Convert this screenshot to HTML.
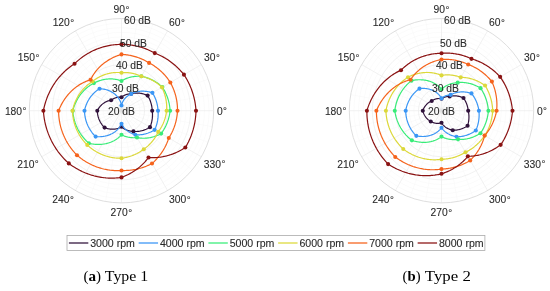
<!DOCTYPE html>
<html><head><meta charset="utf-8"><style>
html,body{margin:0;padding:0;background:#fff;width:550px;height:291px;overflow:hidden;}
svg{display:block;}
text{filter:grayscale(1);}
</style></head><body>
<svg width="550" height="291" viewBox="0 0 550 291">
<defs><radialGradient id="cg"><stop offset="0" stop-color="#d8d8d8"/><stop offset="0.5" stop-color="#e8e8e8" stop-opacity="0.6"/><stop offset="1" stop-color="#fff" stop-opacity="0"/></radialGradient></defs>
<rect width="550" height="291" fill="#fff"/>
<circle cx="121.50" cy="110.70" r="4.61" fill="none" stroke="#f6f6f6" stroke-width="0.5"/>
<circle cx="121.50" cy="110.70" r="9.22" fill="none" stroke="#f6f6f6" stroke-width="0.5"/>
<circle cx="121.50" cy="110.70" r="13.83" fill="none" stroke="#f6f6f6" stroke-width="0.5"/>
<circle cx="121.50" cy="110.70" r="18.44" fill="none" stroke="#f6f6f6" stroke-width="0.5"/>
<circle cx="121.50" cy="110.70" r="27.66" fill="none" stroke="#f6f6f6" stroke-width="0.5"/>
<circle cx="121.50" cy="110.70" r="32.27" fill="none" stroke="#f6f6f6" stroke-width="0.5"/>
<circle cx="121.50" cy="110.70" r="36.88" fill="none" stroke="#f6f6f6" stroke-width="0.5"/>
<circle cx="121.50" cy="110.70" r="41.49" fill="none" stroke="#f6f6f6" stroke-width="0.5"/>
<circle cx="121.50" cy="110.70" r="50.71" fill="none" stroke="#f6f6f6" stroke-width="0.5"/>
<circle cx="121.50" cy="110.70" r="55.32" fill="none" stroke="#f6f6f6" stroke-width="0.5"/>
<circle cx="121.50" cy="110.70" r="59.93" fill="none" stroke="#f6f6f6" stroke-width="0.5"/>
<circle cx="121.50" cy="110.70" r="64.54" fill="none" stroke="#f6f6f6" stroke-width="0.5"/>
<circle cx="121.50" cy="110.70" r="73.76" fill="none" stroke="#f6f6f6" stroke-width="0.5"/>
<circle cx="121.50" cy="110.70" r="78.37" fill="none" stroke="#f6f6f6" stroke-width="0.5"/>
<circle cx="121.50" cy="110.70" r="82.98" fill="none" stroke="#f6f6f6" stroke-width="0.5"/>
<circle cx="121.50" cy="110.70" r="87.59" fill="none" stroke="#f6f6f6" stroke-width="0.5"/>
<line x1="121.50" y1="110.70" x2="212.30" y2="94.69" stroke="#f6f6f6" stroke-width="0.5"/>
<line x1="121.50" y1="110.70" x2="208.14" y2="79.17" stroke="#f6f6f6" stroke-width="0.5"/>
<line x1="121.50" y1="110.70" x2="192.13" y2="51.43" stroke="#f6f6f6" stroke-width="0.5"/>
<line x1="121.50" y1="110.70" x2="180.77" y2="40.07" stroke="#f6f6f6" stroke-width="0.5"/>
<line x1="121.50" y1="110.70" x2="153.03" y2="24.06" stroke="#f6f6f6" stroke-width="0.5"/>
<line x1="121.50" y1="110.70" x2="137.51" y2="19.90" stroke="#f6f6f6" stroke-width="0.5"/>
<line x1="121.50" y1="110.70" x2="105.49" y2="19.90" stroke="#f6f6f6" stroke-width="0.5"/>
<line x1="121.50" y1="110.70" x2="89.97" y2="24.06" stroke="#f6f6f6" stroke-width="0.5"/>
<line x1="121.50" y1="110.70" x2="62.23" y2="40.07" stroke="#f6f6f6" stroke-width="0.5"/>
<line x1="121.50" y1="110.70" x2="50.87" y2="51.43" stroke="#f6f6f6" stroke-width="0.5"/>
<line x1="121.50" y1="110.70" x2="34.86" y2="79.17" stroke="#f6f6f6" stroke-width="0.5"/>
<line x1="121.50" y1="110.70" x2="30.70" y2="94.69" stroke="#f6f6f6" stroke-width="0.5"/>
<line x1="121.50" y1="110.70" x2="30.70" y2="126.71" stroke="#f6f6f6" stroke-width="0.5"/>
<line x1="121.50" y1="110.70" x2="34.86" y2="142.23" stroke="#f6f6f6" stroke-width="0.5"/>
<line x1="121.50" y1="110.70" x2="50.87" y2="169.97" stroke="#f6f6f6" stroke-width="0.5"/>
<line x1="121.50" y1="110.70" x2="62.23" y2="181.33" stroke="#f6f6f6" stroke-width="0.5"/>
<line x1="121.50" y1="110.70" x2="89.97" y2="197.34" stroke="#f6f6f6" stroke-width="0.5"/>
<line x1="121.50" y1="110.70" x2="105.49" y2="201.50" stroke="#f6f6f6" stroke-width="0.5"/>
<line x1="121.50" y1="110.70" x2="137.51" y2="201.50" stroke="#f6f6f6" stroke-width="0.5"/>
<line x1="121.50" y1="110.70" x2="153.03" y2="197.34" stroke="#f6f6f6" stroke-width="0.5"/>
<line x1="121.50" y1="110.70" x2="180.77" y2="181.33" stroke="#f6f6f6" stroke-width="0.5"/>
<line x1="121.50" y1="110.70" x2="192.13" y2="169.97" stroke="#f6f6f6" stroke-width="0.5"/>
<line x1="121.50" y1="110.70" x2="208.14" y2="142.23" stroke="#f6f6f6" stroke-width="0.5"/>
<line x1="121.50" y1="110.70" x2="212.30" y2="126.71" stroke="#f6f6f6" stroke-width="0.5"/>
<circle cx="121.50" cy="110.70" r="23.05" fill="none" stroke="#ebebeb" stroke-width="0.7"/>
<circle cx="121.50" cy="110.70" r="46.10" fill="none" stroke="#ebebeb" stroke-width="0.7"/>
<circle cx="121.50" cy="110.70" r="69.15" fill="none" stroke="#ebebeb" stroke-width="0.7"/>
<line x1="121.50" y1="110.70" x2="213.70" y2="110.70" stroke="#ebebeb" stroke-width="0.7"/>
<line x1="121.50" y1="110.70" x2="201.35" y2="64.60" stroke="#ebebeb" stroke-width="0.7"/>
<line x1="121.50" y1="110.70" x2="167.60" y2="30.85" stroke="#ebebeb" stroke-width="0.7"/>
<line x1="121.50" y1="110.70" x2="121.50" y2="18.50" stroke="#ebebeb" stroke-width="0.7"/>
<line x1="121.50" y1="110.70" x2="75.40" y2="30.85" stroke="#ebebeb" stroke-width="0.7"/>
<line x1="121.50" y1="110.70" x2="41.65" y2="64.60" stroke="#ebebeb" stroke-width="0.7"/>
<line x1="121.50" y1="110.70" x2="29.30" y2="110.70" stroke="#ebebeb" stroke-width="0.7"/>
<line x1="121.50" y1="110.70" x2="41.65" y2="156.80" stroke="#ebebeb" stroke-width="0.7"/>
<line x1="121.50" y1="110.70" x2="75.40" y2="190.55" stroke="#ebebeb" stroke-width="0.7"/>
<line x1="121.50" y1="110.70" x2="121.50" y2="202.90" stroke="#ebebeb" stroke-width="0.7"/>
<line x1="121.50" y1="110.70" x2="167.60" y2="190.55" stroke="#ebebeb" stroke-width="0.7"/>
<line x1="121.50" y1="110.70" x2="201.35" y2="156.80" stroke="#ebebeb" stroke-width="0.7"/>
<circle cx="121.50" cy="110.70" r="92.20" fill="none" stroke="#dadada" stroke-width="0.9"/>
<circle cx="121.50" cy="110.70" r="5" fill="url(#cg)"/>
<path d="M152.20 110.70 L152.18 110.16 L152.15 109.63 L152.11 109.10 L152.06 108.56 L152.00 108.03 L151.93 107.50 L151.86 106.97 L151.77 106.45 L151.67 105.92 L151.57 105.40 L151.46 104.88 L151.33 104.36 L151.20 103.84 L151.06 103.33 L150.91 102.82 L150.75 102.31 L150.59 101.81 L150.41 101.31 L150.23 100.81 L150.04 100.31 L149.83 99.82 L149.62 99.34 L149.41 98.85 L149.18 98.38 L148.95 97.90 L148.70 97.43 L148.45 96.97 L148.19 96.51 L147.93 96.05 L147.65 95.60 L147.08 95.33 L146.51 95.07 L145.93 94.83 L145.35 94.61 L144.78 94.40 L144.20 94.21 L143.62 94.03 L143.05 93.86 L142.48 93.71 L141.90 93.58 L141.33 93.46 L140.76 93.36 L140.20 93.27 L139.63 93.19 L139.07 93.13 L138.51 93.08 L137.96 93.05 L137.41 93.03 L136.87 93.02 L136.33 93.03 L135.79 93.05 L135.26 93.09 L134.74 93.13 L134.22 93.19 L133.71 93.27 L133.20 93.35 L132.70 93.45 L132.21 93.56 L131.73 93.68 L131.25 93.81 L130.86 93.82 L130.47 93.84 L130.08 93.86 L129.70 93.89 L129.32 93.93 L128.94 93.98 L128.57 94.04 L128.21 94.10 L127.84 94.18 L127.49 94.26 L127.13 94.34 L126.78 94.44 L126.44 94.54 L126.10 94.65 L125.77 94.76 L125.44 94.88 L125.12 95.01 L124.81 95.15 L124.50 95.29 L124.19 95.44 L123.89 95.59 L123.60 95.75 L123.32 95.91 L123.04 96.08 L122.76 96.26 L122.50 96.43 L122.24 96.62 L121.99 96.81 L121.74 97.00 L121.50 97.20 L121.26 97.18 L121.03 97.15 L120.79 97.14 L120.55 97.13 L120.31 97.12 L120.07 97.11 L119.83 97.12 L119.59 97.12 L119.35 97.13 L119.11 97.14 L118.87 97.16 L118.63 97.18 L118.39 97.21 L118.14 97.24 L117.90 97.27 L117.66 97.31 L117.42 97.36 L117.18 97.40 L116.94 97.46 L116.70 97.51 L116.46 97.57 L116.22 97.64 L115.99 97.71 L115.75 97.78 L115.51 97.86 L115.28 97.94 L115.04 98.03 L114.81 98.12 L114.58 98.22 L114.35 98.32 L114.12 98.42 L113.89 98.53 L113.67 98.64 L113.44 98.76 L113.22 98.88 L113.00 99.00 L112.78 99.13 L112.56 99.26 L112.35 99.40 L112.14 99.54 L111.93 99.69 L111.72 99.84 L111.51 99.99 L111.31 100.14 L111.11 100.31 L110.77 100.34 L110.44 100.39 L110.11 100.44 L109.77 100.50 L109.43 100.57 L109.09 100.65 L108.75 100.74 L108.41 100.84 L108.07 100.94 L107.73 101.06 L107.39 101.18 L107.05 101.31 L106.71 101.46 L106.37 101.61 L106.03 101.77 L105.69 101.94 L105.35 102.11 L105.02 102.30 L104.68 102.50 L104.35 102.70 L104.02 102.92 L103.69 103.14 L103.37 103.37 L103.05 103.62 L102.73 103.87 L102.41 104.13 L102.10 104.40 L101.79 104.67 L101.48 104.96 L101.18 105.26 L100.89 105.56 L100.59 105.87 L100.31 106.20 L100.02 106.53 L99.75 106.86 L99.47 107.21 L99.21 107.57 L98.95 107.93 L98.69 108.30 L98.44 108.68 L98.20 109.07 L97.97 109.47 L97.74 109.87 L97.51 110.28 L97.30 110.70 L97.31 111.12 L97.33 111.54 L97.35 111.97 L97.39 112.39 L97.43 112.81 L97.47 113.23 L97.53 113.64 L97.59 114.06 L97.66 114.48 L97.73 114.89 L97.82 115.30 L97.91 115.71 L98.00 116.12 L98.11 116.53 L98.22 116.94 L98.34 117.34 L98.47 117.74 L98.60 118.14 L98.74 118.54 L98.88 118.93 L99.04 119.32 L99.20 119.71 L99.36 120.10 L99.54 120.48 L99.72 120.86 L99.90 121.23 L100.10 121.60 L100.30 121.97 L100.50 122.34 L100.72 122.70 L100.93 123.06 L101.16 123.41 L101.39 123.76 L101.63 124.11 L101.87 124.45 L102.12 124.78 L102.37 125.12 L102.63 125.44 L102.90 125.77 L103.17 126.08 L103.44 126.40 L103.72 126.71 L104.01 127.01 L104.30 127.31 L104.60 127.60 L105.02 127.77 L105.44 127.93 L105.86 128.07 L106.28 128.21 L106.69 128.34 L107.11 128.47 L107.53 128.58 L107.95 128.68 L108.37 128.77 L108.79 128.86 L109.20 128.93 L109.62 129.00 L110.03 129.06 L110.44 129.11 L110.85 129.15 L111.26 129.18 L111.66 129.20 L112.07 129.22 L112.47 129.22 L112.86 129.22 L113.26 129.21 L113.65 129.19 L114.04 129.16 L114.43 129.13 L114.81 129.09 L115.19 129.04 L115.56 128.98 L115.93 128.91 L116.30 128.84 L116.66 128.76 L117.02 128.68 L117.37 128.58 L117.72 128.48 L118.06 128.38 L118.40 128.26 L118.74 128.14 L119.07 128.02 L119.39 127.88 L119.71 127.75 L120.02 127.60 L120.33 127.45 L120.63 127.30 L120.93 127.14 L121.22 126.97 L121.50 126.80 L121.79 127.06 L122.08 127.31 L122.38 127.56 L122.70 127.80 L123.02 128.03 L123.35 128.26 L123.68 128.49 L124.03 128.70 L124.38 128.91 L124.75 129.12 L125.12 129.31 L125.50 129.50 L125.88 129.68 L126.28 129.85 L126.68 130.02 L127.08 130.18 L127.50 130.32 L127.92 130.46 L128.35 130.59 L128.79 130.72 L129.23 130.83 L129.67 130.93 L130.13 131.02 L130.59 131.11 L131.05 131.18 L131.52 131.25 L132.00 131.30 L132.48 131.34 L132.96 131.38 L133.45 131.40 L133.96 131.44 L134.48 131.48 L135.01 131.50 L135.54 131.51 L136.07 131.51 L136.61 131.49 L137.15 131.46 L137.69 131.42 L138.24 131.37 L138.79 131.31 L139.34 131.23 L139.90 131.14 L140.46 131.03 L141.02 130.91 L141.58 130.78 L142.15 130.64 L142.71 130.48 L143.27 130.31 L143.84 130.12 L144.40 129.92 L144.97 129.71 L145.53 129.48 L146.10 129.24 L146.66 128.98 L147.22 128.71 L147.78 128.43 L148.34 128.13 L148.89 127.82 L149.44 127.49 L149.99 127.15 L150.21 126.61 L150.42 126.08 L150.62 125.54 L150.81 124.99 L150.99 124.45 L151.15 123.90 L151.31 123.35 L151.46 122.80 L151.60 122.25 L151.73 121.70 L151.84 121.15 L151.95 120.59 L152.05 120.04 L152.14 119.49 L152.22 118.93 L152.28 118.38 L152.34 117.82 L152.39 117.27 L152.43 116.71 L152.46 116.16 L152.47 115.61 L152.48 115.05 L152.48 114.50 L152.47 113.96 L152.45 113.41 L152.42 112.86 L152.38 112.32 L152.33 111.78 L152.27 111.24 L152.20 110.70Z" fill="none" stroke="#30123b" stroke-width="1.20" stroke-linejoin="round"/>
<circle cx="152.20" cy="110.70" r="2.05" fill="#30123b"/>
<circle cx="147.65" cy="95.60" r="2.05" fill="#30123b"/>
<circle cx="131.25" cy="93.81" r="2.05" fill="#30123b"/>
<circle cx="121.50" cy="97.20" r="2.05" fill="#30123b"/>
<circle cx="111.11" cy="100.31" r="2.05" fill="#30123b"/>
<circle cx="97.30" cy="110.70" r="2.05" fill="#30123b"/>
<circle cx="104.60" cy="127.60" r="2.05" fill="#30123b"/>
<circle cx="121.50" cy="126.80" r="2.05" fill="#30123b"/>
<circle cx="133.45" cy="131.40" r="2.05" fill="#30123b"/>
<circle cx="149.99" cy="127.15" r="2.05" fill="#30123b"/>
<path d="M158.00 110.70 L157.97 110.06 L157.92 109.43 L157.87 108.79 L157.80 108.16 L157.73 107.53 L157.64 106.90 L157.54 106.27 L157.43 105.65 L157.31 105.03 L157.18 104.41 L157.04 103.79 L156.89 103.18 L156.73 102.57 L156.55 101.96 L156.37 101.36 L156.18 100.76 L155.97 100.16 L155.76 99.57 L155.53 98.98 L155.30 98.40 L155.05 97.82 L154.80 97.25 L154.53 96.68 L154.26 96.11 L153.98 95.56 L153.68 95.00 L153.38 94.46 L153.07 93.91 L152.75 93.38 L152.42 92.85 L151.64 92.59 L150.85 92.36 L150.07 92.14 L149.29 91.95 L148.52 91.78 L147.74 91.63 L146.97 91.50 L146.21 91.40 L145.44 91.31 L144.69 91.24 L143.93 91.20 L143.18 91.17 L142.44 91.17 L141.71 91.18 L140.98 91.22 L140.26 91.27 L139.55 91.35 L138.84 91.44 L138.15 91.55 L137.46 91.68 L136.79 91.82 L136.12 91.99 L135.46 92.17 L134.82 92.37 L134.19 92.58 L133.56 92.81 L132.95 93.06 L132.36 93.33 L131.77 93.61 L131.20 93.90 L130.68 94.15 L130.16 94.41 L129.66 94.68 L129.17 94.97 L128.70 95.26 L128.24 95.57 L127.79 95.89 L127.35 96.22 L126.93 96.57 L126.52 96.92 L126.12 97.28 L125.74 97.65 L125.37 98.03 L125.02 98.42 L124.68 98.82 L124.36 99.22 L124.05 99.64 L123.76 100.06 L123.49 100.48 L123.22 100.92 L122.98 101.36 L122.75 101.80 L122.54 102.25 L122.34 102.70 L122.16 103.16 L121.99 103.62 L121.85 104.09 L121.71 104.56 L121.60 105.03 L121.50 105.50 L121.40 104.93 L121.28 104.35 L121.14 103.78 L120.98 103.22 L120.80 102.65 L120.60 102.09 L120.38 101.54 L120.14 100.99 L119.88 100.45 L119.60 99.91 L119.30 99.38 L118.98 98.86 L118.65 98.34 L118.29 97.84 L117.92 97.34 L117.53 96.85 L117.12 96.37 L116.69 95.90 L116.25 95.44 L115.78 95.00 L115.31 94.56 L114.81 94.14 L114.30 93.73 L113.77 93.33 L113.22 92.95 L112.66 92.58 L112.08 92.22 L111.49 91.88 L110.89 91.55 L110.27 91.24 L109.63 90.95 L108.98 90.67 L108.32 90.41 L107.65 90.17 L106.96 89.94 L106.26 89.73 L105.55 89.54 L104.83 89.37 L104.10 89.21 L103.36 89.08 L102.61 88.97 L101.85 88.87 L101.07 88.80 L100.30 88.74 L99.51 88.71 L99.03 89.01 L98.56 89.31 L98.10 89.63 L97.63 89.95 L97.17 90.29 L96.72 90.63 L96.27 90.99 L95.82 91.35 L95.38 91.73 L94.95 92.11 L94.52 92.50 L94.10 92.90 L93.68 93.32 L93.27 93.74 L92.86 94.17 L92.46 94.61 L92.07 95.05 L91.69 95.51 L91.31 95.97 L90.94 96.45 L90.57 96.93 L90.22 97.42 L89.87 97.92 L89.53 98.43 L89.20 98.94 L88.87 99.47 L88.56 100.00 L88.25 100.53 L87.95 101.08 L87.66 101.63 L87.38 102.19 L87.11 102.76 L86.85 103.33 L86.60 103.92 L86.35 104.50 L86.12 105.10 L85.90 105.70 L85.69 106.30 L85.49 106.91 L85.29 107.53 L85.11 108.16 L84.94 108.78 L84.78 109.42 L84.64 110.06 L84.50 110.70 L84.51 111.35 L84.54 111.99 L84.58 112.64 L84.63 113.28 L84.69 113.92 L84.76 114.56 L84.84 115.20 L84.93 115.84 L85.03 116.48 L85.15 117.11 L85.28 117.74 L85.41 118.37 L85.56 119.00 L85.72 119.62 L85.89 120.24 L86.07 120.86 L86.26 121.47 L86.46 122.08 L86.68 122.69 L86.90 123.29 L87.13 123.89 L87.38 124.49 L87.63 125.08 L87.89 125.66 L88.17 126.24 L88.45 126.82 L88.75 127.39 L89.05 127.95 L89.36 128.51 L89.69 129.07 L90.02 129.61 L90.36 130.16 L90.72 130.69 L91.08 131.22 L91.45 131.74 L91.83 132.26 L92.21 132.77 L92.61 133.27 L93.02 133.77 L93.43 134.25 L93.85 134.74 L94.28 135.21 L94.72 135.67 L95.17 136.13 L95.62 136.58 L96.44 136.65 L97.25 136.70 L98.06 136.73 L98.86 136.74 L99.66 136.73 L100.45 136.70 L101.23 136.65 L102.00 136.58 L102.76 136.49 L103.52 136.38 L104.26 136.26 L104.99 136.12 L105.72 135.96 L106.43 135.78 L107.13 135.58 L107.82 135.37 L108.50 135.14 L109.17 134.90 L109.82 134.64 L110.46 134.36 L111.09 134.07 L111.71 133.77 L112.31 133.45 L112.89 133.12 L113.47 132.77 L114.02 132.41 L114.57 132.04 L115.09 131.66 L115.60 131.26 L116.10 130.86 L116.58 130.44 L117.04 130.01 L117.49 129.57 L117.92 129.12 L118.33 128.67 L118.73 128.20 L119.11 127.73 L119.47 127.25 L119.81 126.76 L120.14 126.26 L120.45 125.76 L120.74 125.25 L121.01 124.74 L121.26 124.22 L121.50 123.70 L121.74 124.19 L121.99 124.67 L122.26 125.15 L122.54 125.62 L122.85 126.09 L123.17 126.55 L123.50 127.01 L123.85 127.46 L124.22 127.90 L124.61 128.33 L125.01 128.75 L125.43 129.17 L125.86 129.57 L126.30 129.97 L126.77 130.36 L127.24 130.73 L127.74 131.10 L128.24 131.45 L128.76 131.79 L129.30 132.12 L129.85 132.44 L130.41 132.75 L130.98 133.04 L131.57 133.32 L132.17 133.58 L132.78 133.83 L133.41 134.07 L134.04 134.29 L134.69 134.50 L135.35 134.69 L135.95 134.75 L136.55 134.79 L137.16 134.82 L137.78 134.84 L138.40 134.84 L139.03 134.82 L139.66 134.80 L140.29 134.76 L140.93 134.70 L141.58 134.63 L142.22 134.54 L142.87 134.44 L143.52 134.32 L144.18 134.18 L144.83 134.03 L145.49 133.87 L146.15 133.69 L146.81 133.49 L147.47 133.28 L148.13 133.05 L148.79 132.80 L149.45 132.54 L150.11 132.26 L150.77 131.97 L151.43 131.65 L152.08 131.33 L152.73 130.98 L153.38 130.62 L154.03 130.24 L154.67 129.85 L154.95 129.24 L155.21 128.62 L155.47 128.01 L155.71 127.38 L155.94 126.76 L156.16 126.13 L156.37 125.50 L156.57 124.87 L156.75 124.23 L156.93 123.59 L157.09 122.95 L157.24 122.31 L157.38 121.67 L157.51 121.03 L157.63 120.38 L157.73 119.73 L157.82 119.09 L157.91 118.44 L157.98 117.79 L158.04 117.14 L158.08 116.49 L158.12 115.85 L158.14 115.20 L158.16 114.55 L158.16 113.91 L158.15 113.26 L158.13 112.62 L158.10 111.98 L158.05 111.34 L158.00 110.70Z" fill="none" stroke="#3a96f5" stroke-width="1.20" stroke-linejoin="round"/>
<circle cx="158.00" cy="110.70" r="2.05" fill="#3a96f5"/>
<circle cx="152.42" cy="92.85" r="2.05" fill="#3a96f5"/>
<circle cx="131.20" cy="93.90" r="2.05" fill="#3a96f5"/>
<circle cx="121.50" cy="105.50" r="2.05" fill="#3a96f5"/>
<circle cx="99.51" cy="88.71" r="2.05" fill="#3a96f5"/>
<circle cx="84.50" cy="110.70" r="2.05" fill="#3a96f5"/>
<circle cx="95.62" cy="136.58" r="2.05" fill="#3a96f5"/>
<circle cx="121.50" cy="123.70" r="2.05" fill="#3a96f5"/>
<circle cx="135.35" cy="134.69" r="2.05" fill="#3a96f5"/>
<circle cx="154.67" cy="129.85" r="2.05" fill="#3a96f5"/>
<path d="M170.10 110.70 L170.05 109.85 L169.98 109.01 L169.89 108.16 L169.80 107.32 L169.68 106.48 L169.56 105.65 L169.41 104.82 L169.26 103.99 L169.09 103.16 L168.90 102.34 L168.70 101.52 L168.49 100.71 L168.26 99.90 L168.02 99.10 L167.77 98.30 L167.50 97.51 L167.22 96.72 L166.92 95.94 L166.61 95.17 L166.29 94.40 L165.96 93.63 L165.61 92.88 L165.25 92.13 L164.88 91.39 L164.49 90.65 L164.09 89.93 L163.68 89.21 L163.26 88.50 L162.82 87.79 L162.38 87.10 L161.74 86.52 L161.10 85.95 L160.46 85.40 L159.80 84.87 L159.14 84.34 L158.47 83.84 L157.80 83.35 L157.12 82.87 L156.43 82.41 L155.74 81.97 L155.05 81.54 L154.35 81.12 L153.64 80.73 L152.94 80.34 L152.22 79.98 L151.51 79.62 L150.79 79.29 L150.07 78.97 L149.35 78.66 L148.63 78.37 L147.90 78.10 L147.17 77.84 L146.45 77.60 L145.72 77.37 L144.99 77.16 L144.26 76.96 L143.53 76.78 L142.80 76.61 L142.08 76.46 L141.35 76.32 L140.59 76.27 L139.83 76.24 L139.07 76.22 L138.32 76.22 L137.57 76.23 L136.83 76.26 L136.10 76.30 L135.37 76.36 L134.65 76.44 L133.94 76.53 L133.23 76.63 L132.53 76.75 L131.84 76.88 L131.16 77.02 L130.48 77.18 L129.81 77.35 L129.16 77.54 L128.51 77.74 L127.87 77.95 L127.24 78.17 L126.62 78.40 L126.00 78.65 L125.40 78.91 L124.81 79.17 L124.23 79.45 L123.66 79.74 L123.11 80.04 L122.56 80.35 L122.02 80.67 L121.50 81.00 L120.98 80.80 L120.45 80.61 L119.91 80.42 L119.37 80.25 L118.82 80.08 L118.27 79.93 L117.70 79.79 L117.14 79.65 L116.56 79.53 L115.98 79.42 L115.40 79.31 L114.81 79.22 L114.21 79.14 L113.61 79.07 L113.01 79.02 L112.40 78.97 L111.79 78.94 L111.17 78.92 L110.55 78.91 L109.93 78.91 L109.30 78.92 L108.67 78.95 L108.04 78.99 L107.40 79.04 L106.76 79.10 L106.12 79.18 L105.48 79.27 L104.84 79.37 L104.20 79.48 L103.55 79.61 L102.90 79.75 L102.26 79.90 L101.61 80.07 L100.96 80.25 L100.32 80.45 L99.67 80.65 L99.02 80.87 L98.38 81.11 L97.74 81.35 L97.10 81.62 L96.46 81.89 L95.82 82.18 L95.18 82.48 L94.55 82.79 L93.92 83.12 L93.29 83.46 L92.66 83.81 L92.04 84.17 L91.42 84.55 L90.80 84.94 L90.19 85.34 L89.58 85.76 L88.98 86.19 L88.38 86.64 L87.79 87.09 L87.20 87.57 L86.62 88.05 L86.05 88.55 L85.48 89.06 L84.92 89.58 L84.37 90.12 L83.83 90.67 L83.29 91.23 L82.77 91.81 L82.25 92.40 L81.74 93.00 L81.24 93.61 L80.74 94.23 L80.26 94.87 L79.79 95.52 L79.33 96.18 L78.87 96.85 L78.43 97.53 L78.00 98.23 L77.58 98.93 L77.17 99.65 L76.78 100.38 L76.39 101.11 L76.02 101.86 L75.66 102.62 L75.32 103.39 L74.98 104.16 L74.66 104.95 L74.35 105.74 L74.06 106.55 L73.78 107.36 L73.51 108.19 L73.26 109.02 L73.02 109.85 L72.80 110.70 L72.87 111.55 L72.95 112.40 L73.04 113.24 L73.15 114.08 L73.27 114.92 L73.41 115.75 L73.56 116.59 L73.73 117.41 L73.91 118.24 L74.11 119.06 L74.32 119.87 L74.54 120.68 L74.78 121.49 L75.03 122.29 L75.30 123.08 L75.58 123.87 L75.87 124.65 L76.17 125.43 L76.49 126.20 L76.82 126.96 L77.17 127.72 L77.52 128.47 L77.89 129.21 L78.28 129.94 L78.67 130.67 L79.08 131.39 L79.50 132.10 L79.93 132.80 L80.37 133.50 L80.83 134.18 L81.29 134.86 L81.77 135.53 L82.26 136.19 L82.75 136.83 L83.26 137.47 L83.78 138.10 L84.31 138.72 L84.85 139.33 L85.40 139.93 L85.96 140.52 L86.53 141.10 L87.11 141.66 L87.70 142.22 L88.30 142.76 L88.90 143.30 L89.82 143.51 L90.73 143.70 L91.64 143.86 L92.54 144.01 L93.45 144.13 L94.34 144.24 L95.23 144.32 L96.12 144.38 L97.00 144.42 L97.88 144.44 L98.74 144.44 L99.60 144.42 L100.45 144.38 L101.30 144.32 L102.13 144.24 L102.96 144.15 L103.78 144.03 L104.58 143.90 L105.38 143.75 L106.17 143.58 L106.94 143.39 L107.71 143.19 L108.46 142.97 L109.20 142.73 L109.93 142.48 L110.65 142.22 L111.35 141.93 L112.04 141.64 L112.72 141.32 L113.38 141.00 L114.03 140.66 L114.66 140.31 L115.28 139.94 L115.89 139.56 L116.48 139.17 L117.05 138.77 L117.61 138.36 L118.16 137.93 L118.68 137.50 L119.19 137.05 L119.69 136.60 L120.17 136.14 L120.63 135.67 L121.07 135.19 L121.50 134.70 L121.92 134.93 L122.35 135.15 L122.79 135.37 L123.24 135.57 L123.69 135.77 L124.16 135.96 L124.62 136.14 L125.10 136.31 L125.58 136.48 L126.07 136.63 L126.57 136.78 L127.07 136.91 L127.58 137.04 L128.10 137.16 L128.62 137.26 L129.14 137.36 L129.68 137.44 L130.21 137.52 L130.76 137.58 L131.30 137.64 L131.86 137.68 L132.41 137.71 L132.97 137.73 L133.54 137.74 L134.11 137.74 L134.68 137.72 L135.26 137.70 L135.83 137.66 L136.42 137.61 L137.00 137.55 L137.72 137.70 L138.45 137.83 L139.19 137.94 L139.94 138.04 L140.70 138.11 L141.46 138.17 L142.23 138.22 L143.02 138.24 L143.80 138.24 L144.60 138.23 L145.40 138.19 L146.20 138.14 L147.02 138.06 L147.83 137.97 L148.65 137.85 L149.48 137.72 L150.31 137.56 L151.14 137.38 L151.97 137.19 L152.81 136.97 L153.64 136.73 L154.48 136.47 L155.32 136.18 L156.16 135.88 L157.00 135.55 L157.83 135.21 L158.67 134.84 L159.50 134.45 L160.34 134.03 L161.16 133.60 L161.64 132.95 L162.10 132.29 L162.56 131.62 L163.00 130.94 L163.43 130.25 L163.85 129.56 L164.26 128.85 L164.66 128.14 L165.04 127.41 L165.41 126.68 L165.78 125.95 L166.12 125.20 L166.46 124.45 L166.78 123.68 L167.09 122.92 L167.39 122.14 L167.67 121.36 L167.94 120.57 L168.20 119.78 L168.44 118.98 L168.67 118.17 L168.89 117.36 L169.09 116.54 L169.28 115.72 L169.45 114.90 L169.61 114.06 L169.75 113.23 L169.88 112.39 L170.00 111.55 L170.10 110.70Z" fill="none" stroke="#38ec78" stroke-width="1.20" stroke-linejoin="round"/>
<circle cx="170.10" cy="110.70" r="2.05" fill="#38ec78"/>
<circle cx="162.38" cy="87.10" r="2.05" fill="#38ec78"/>
<circle cx="141.35" cy="76.32" r="2.05" fill="#38ec78"/>
<circle cx="121.50" cy="81.00" r="2.05" fill="#38ec78"/>
<circle cx="93.92" cy="83.12" r="2.05" fill="#38ec78"/>
<circle cx="72.80" cy="110.70" r="2.05" fill="#38ec78"/>
<circle cx="88.90" cy="143.30" r="2.05" fill="#38ec78"/>
<circle cx="121.50" cy="134.70" r="2.05" fill="#38ec78"/>
<circle cx="137.00" cy="137.55" r="2.05" fill="#38ec78"/>
<circle cx="161.16" cy="133.60" r="2.05" fill="#38ec78"/>
<path d="M166.60 110.70 L166.65 109.91 L166.68 109.12 L166.70 108.33 L166.70 107.54 L166.69 106.75 L166.67 105.95 L166.63 105.16 L166.58 104.36 L166.52 103.57 L166.44 102.78 L166.35 101.98 L166.24 101.19 L166.12 100.40 L165.98 99.61 L165.84 98.82 L165.67 98.03 L165.50 97.25 L165.31 96.47 L165.10 95.69 L164.88 94.91 L164.65 94.14 L164.40 93.37 L164.14 92.60 L163.87 91.84 L163.58 91.08 L163.28 90.32 L162.97 89.57 L162.64 88.83 L162.30 88.09 L161.94 87.35 L161.33 86.77 L160.71 86.20 L160.08 85.65 L159.44 85.11 L158.80 84.58 L158.15 84.07 L157.49 83.58 L156.83 83.10 L156.16 82.63 L155.49 82.18 L154.81 81.75 L154.12 81.33 L153.44 80.92 L152.74 80.53 L152.05 80.15 L151.35 79.79 L150.64 79.45 L149.94 79.12 L149.23 78.80 L148.52 78.50 L147.81 78.22 L147.09 77.95 L146.38 77.69 L145.66 77.45 L144.94 77.22 L144.22 77.01 L143.50 76.82 L142.79 76.64 L142.07 76.47 L141.35 76.32 L140.72 76.03 L140.08 75.75 L139.45 75.48 L138.80 75.22 L138.16 74.98 L137.51 74.74 L136.86 74.52 L136.20 74.31 L135.54 74.11 L134.88 73.93 L134.22 73.75 L133.56 73.59 L132.89 73.44 L132.22 73.30 L131.56 73.17 L130.88 73.06 L130.21 72.96 L129.54 72.87 L128.87 72.79 L128.20 72.72 L127.52 72.66 L126.85 72.62 L126.18 72.59 L125.51 72.57 L124.84 72.56 L124.17 72.57 L123.50 72.58 L122.83 72.61 L122.16 72.65 L121.50 72.70 L120.84 72.63 L120.17 72.58 L119.50 72.54 L118.83 72.51 L118.16 72.49 L117.48 72.48 L116.81 72.49 L116.13 72.51 L115.46 72.54 L114.78 72.58 L114.10 72.63 L113.42 72.70 L112.74 72.77 L112.07 72.86 L111.39 72.96 L110.71 73.08 L110.04 73.20 L109.36 73.34 L108.69 73.49 L108.02 73.66 L107.35 73.83 L106.68 74.02 L106.01 74.22 L105.35 74.43 L104.69 74.65 L104.03 74.88 L103.38 75.13 L102.73 75.39 L102.08 75.66 L101.43 75.94 L100.79 76.24 L100.16 76.54 L99.53 76.86 L98.90 77.19 L98.28 77.53 L97.66 77.89 L97.05 78.25 L96.44 78.63 L95.84 79.01 L95.25 79.41 L94.66 79.82 L94.07 80.24 L93.50 80.67 L92.93 81.11 L92.37 81.57 L91.74 81.96 L91.11 82.37 L90.50 82.78 L89.88 83.22 L89.28 83.66 L88.67 84.12 L88.08 84.59 L87.49 85.07 L86.91 85.57 L86.33 86.07 L85.76 86.60 L85.20 87.13 L84.65 87.67 L84.10 88.23 L83.57 88.80 L83.04 89.38 L82.52 89.97 L82.01 90.58 L81.51 91.20 L81.02 91.82 L80.54 92.46 L80.07 93.11 L79.60 93.77 L79.15 94.44 L78.71 95.13 L78.28 95.82 L77.87 96.52 L77.46 97.24 L77.06 97.96 L76.68 98.69 L76.31 99.43 L75.95 100.18 L75.61 100.94 L75.27 101.71 L74.95 102.49 L74.64 103.28 L74.35 104.07 L74.07 104.88 L73.80 105.69 L73.55 106.50 L73.31 107.33 L73.09 108.16 L72.88 109.00 L72.68 109.85 L72.50 110.70 L72.52 111.55 L72.56 112.41 L72.61 113.26 L72.67 114.11 L72.75 114.96 L72.85 115.81 L72.96 116.66 L73.08 117.50 L73.22 118.35 L73.38 119.19 L73.54 120.02 L73.73 120.85 L73.92 121.68 L74.14 122.51 L74.36 123.33 L74.60 124.15 L74.86 124.96 L75.13 125.77 L75.41 126.57 L75.71 127.37 L76.02 128.16 L76.34 128.95 L76.68 129.73 L77.03 130.50 L77.39 131.27 L77.77 132.03 L78.16 132.78 L78.57 133.53 L78.98 134.27 L79.41 135.00 L79.85 135.72 L80.31 136.44 L80.77 137.15 L81.25 137.85 L81.74 138.54 L82.25 139.22 L82.76 139.89 L83.29 140.56 L83.82 141.21 L84.37 141.85 L84.93 142.49 L85.50 143.11 L86.08 143.73 L86.67 144.33 L87.28 144.92 L87.89 145.50 L88.52 146.07 L89.15 146.62 L89.80 147.17 L90.45 147.70 L91.12 148.22 L91.79 148.73 L92.47 149.23 L93.16 149.71 L93.85 150.18 L94.56 150.64 L95.27 151.09 L95.99 151.53 L96.72 151.95 L97.45 152.36 L98.19 152.75 L98.94 153.13 L99.69 153.50 L100.45 153.86 L101.21 154.20 L101.98 154.53 L102.76 154.85 L103.54 155.15 L104.33 155.44 L105.12 155.71 L105.91 155.97 L106.71 156.22 L107.51 156.45 L108.32 156.67 L109.13 156.87 L109.94 157.06 L110.76 157.24 L111.57 157.40 L112.39 157.54 L113.22 157.68 L114.04 157.79 L114.87 157.90 L115.69 157.98 L116.52 158.06 L117.35 158.12 L118.18 158.16 L119.01 158.19 L119.84 158.21 L120.67 158.21 L121.50 158.20 L122.33 158.09 L123.15 157.97 L123.97 157.84 L124.79 157.69 L125.60 157.52 L126.40 157.34 L127.20 157.15 L128.00 156.95 L128.79 156.73 L129.57 156.49 L130.35 156.25 L131.13 155.99 L131.89 155.72 L132.65 155.43 L133.41 155.13 L134.15 154.82 L134.89 154.50 L135.62 154.16 L136.35 153.82 L137.06 153.46 L137.77 153.08 L138.47 152.70 L139.16 152.31 L139.84 151.90 L140.52 151.48 L141.18 151.06 L141.84 150.62 L142.49 150.17 L143.12 149.71 L143.75 149.24 L144.38 148.78 L145.01 148.32 L145.62 147.84 L146.23 147.36 L146.82 146.87 L147.41 146.36 L147.99 145.85 L148.55 145.33 L149.11 144.79 L149.65 144.25 L150.19 143.70 L150.71 143.15 L151.23 142.58 L151.73 142.01 L152.22 141.42 L152.70 140.83 L153.17 140.24 L153.63 139.63 L154.08 139.02 L154.52 138.40 L154.94 137.78 L155.35 137.15 L155.75 136.51 L156.14 135.87 L156.52 135.22 L156.88 134.57 L157.24 133.91 L157.58 133.24 L157.90 132.57 L158.22 131.90 L158.66 131.30 L159.10 130.69 L159.52 130.07 L159.93 129.44 L160.34 128.81 L160.73 128.17 L161.11 127.51 L161.48 126.85 L161.84 126.19 L162.19 125.51 L162.53 124.83 L162.85 124.14 L163.17 123.44 L163.47 122.73 L163.76 122.02 L164.04 121.31 L164.30 120.58 L164.56 119.85 L164.80 119.12 L165.03 118.38 L165.24 117.63 L165.45 116.88 L165.64 116.12 L165.82 115.36 L165.98 114.59 L166.13 113.82 L166.27 113.05 L166.39 112.27 L166.50 111.49 L166.60 110.70Z" fill="none" stroke="#dcd83a" stroke-width="1.20" stroke-linejoin="round"/>
<circle cx="166.60" cy="110.70" r="2.05" fill="#dcd83a"/>
<circle cx="161.94" cy="87.35" r="2.05" fill="#dcd83a"/>
<circle cx="141.35" cy="76.32" r="2.05" fill="#dcd83a"/>
<circle cx="121.50" cy="72.70" r="2.05" fill="#dcd83a"/>
<circle cx="92.37" cy="81.57" r="2.05" fill="#dcd83a"/>
<circle cx="72.50" cy="110.70" r="2.05" fill="#dcd83a"/>
<circle cx="87.28" cy="144.92" r="2.05" fill="#dcd83a"/>
<circle cx="121.50" cy="158.20" r="2.05" fill="#dcd83a"/>
<circle cx="143.75" cy="149.24" r="2.05" fill="#dcd83a"/>
<circle cx="158.22" cy="131.90" r="2.05" fill="#dcd83a"/>
<path d="M177.50 110.70 L177.50 109.72 L177.49 108.74 L177.46 107.77 L177.42 106.79 L177.35 105.81 L177.27 104.84 L177.18 103.86 L177.06 102.89 L176.93 101.92 L176.78 100.95 L176.62 99.99 L176.43 99.02 L176.23 98.06 L176.02 97.11 L175.79 96.15 L175.54 95.21 L175.27 94.26 L174.99 93.32 L174.69 92.39 L174.37 91.46 L174.04 90.53 L173.69 89.61 L173.33 88.70 L172.95 87.79 L172.56 86.89 L172.14 86.00 L171.72 85.11 L171.27 84.23 L170.82 83.36 L170.34 82.50 L169.81 81.67 L169.26 80.85 L168.70 80.05 L168.13 79.25 L167.54 78.47 L166.93 77.69 L166.32 76.93 L165.69 76.17 L165.05 75.43 L164.40 74.70 L163.73 73.99 L163.06 73.28 L162.37 72.59 L161.67 71.91 L160.96 71.24 L160.23 70.59 L159.50 69.95 L158.76 69.32 L158.00 68.71 L157.24 68.11 L156.47 67.52 L155.68 66.95 L154.89 66.39 L154.09 65.85 L153.28 65.32 L152.46 64.80 L151.63 64.30 L150.79 63.82 L149.95 63.35 L149.10 62.90 L148.28 62.39 L147.45 61.90 L146.61 61.42 L145.76 60.95 L144.91 60.51 L144.04 60.07 L143.17 59.65 L142.29 59.25 L141.40 58.86 L140.50 58.48 L139.60 58.13 L138.69 57.78 L137.78 57.46 L136.86 57.14 L135.93 56.85 L135.00 56.57 L134.06 56.31 L133.11 56.06 L132.17 55.83 L131.21 55.62 L130.26 55.42 L129.29 55.24 L128.33 55.07 L127.36 54.93 L126.39 54.80 L125.42 54.68 L124.44 54.59 L123.46 54.51 L122.48 54.45 L121.50 54.40 L120.52 54.69 L119.55 54.99 L118.60 55.32 L117.65 55.65 L116.72 56.01 L115.79 56.38 L114.88 56.77 L113.98 57.17 L113.09 57.58 L112.21 58.01 L111.35 58.46 L110.49 58.92 L109.65 59.39 L108.83 59.88 L108.02 60.38 L107.22 60.89 L106.43 61.41 L105.66 61.95 L104.90 62.50 L104.16 63.06 L103.43 63.63 L102.72 64.21 L102.02 64.80 L101.33 65.41 L100.66 66.02 L100.01 66.64 L99.37 67.27 L98.75 67.91 L98.14 68.56 L97.55 69.22 L96.97 69.88 L96.41 70.55 L95.87 71.23 L95.34 71.92 L94.83 72.61 L94.33 73.31 L93.85 74.01 L93.39 74.72 L92.94 75.43 L92.51 76.15 L92.10 76.87 L91.70 77.60 L91.31 78.33 L90.95 79.06 L90.60 79.80 L89.76 80.05 L88.92 80.31 L88.07 80.60 L87.23 80.91 L86.39 81.24 L85.55 81.59 L84.71 81.96 L83.87 82.35 L83.04 82.76 L82.21 83.19 L81.38 83.64 L80.56 84.11 L79.74 84.60 L78.92 85.12 L78.11 85.65 L77.31 86.20 L76.51 86.78 L75.72 87.37 L74.94 87.99 L74.16 88.63 L73.39 89.28 L72.63 89.96 L71.88 90.65 L71.14 91.37 L70.41 92.11 L69.69 92.86 L68.98 93.64 L68.28 94.43 L67.60 95.24 L66.93 96.08 L66.26 96.93 L65.62 97.80 L64.98 98.69 L64.36 99.59 L63.76 100.52 L63.17 101.46 L62.59 102.42 L62.03 103.40 L61.49 104.39 L60.96 105.40 L60.46 106.43 L59.96 107.48 L59.49 108.53 L59.04 109.61 L58.60 110.70 L58.61 111.80 L58.64 112.90 L58.69 113.99 L58.75 115.09 L58.84 116.18 L58.94 117.27 L59.07 118.37 L59.21 119.45 L59.37 120.54 L59.56 121.62 L59.76 122.70 L59.97 123.78 L60.21 124.85 L60.47 125.92 L60.74 126.98 L61.04 128.04 L61.35 129.09 L61.68 130.14 L62.03 131.18 L62.39 132.21 L62.78 133.24 L63.18 134.26 L63.60 135.28 L64.04 136.28 L64.49 137.28 L64.97 138.27 L65.46 139.26 L65.96 140.23 L66.49 141.19 L67.03 142.15 L67.58 143.10 L68.16 144.03 L68.75 144.96 L69.35 145.87 L69.98 146.78 L70.61 147.67 L71.27 148.55 L71.93 149.43 L72.62 150.28 L73.32 151.13 L74.03 151.97 L74.76 152.79 L75.50 153.60 L76.25 154.39 L77.02 155.18 L77.85 155.90 L78.70 156.60 L79.55 157.29 L80.41 157.96 L81.29 158.62 L82.18 159.26 L83.07 159.89 L83.98 160.49 L84.89 161.09 L85.82 161.66 L86.75 162.22 L87.69 162.76 L88.64 163.28 L89.60 163.79 L90.57 164.28 L91.54 164.75 L92.52 165.20 L93.51 165.64 L94.50 166.06 L95.50 166.46 L96.50 166.84 L97.52 167.20 L98.53 167.55 L99.55 167.88 L100.58 168.19 L101.60 168.48 L102.64 168.75 L103.67 169.01 L104.71 169.24 L105.76 169.46 L106.80 169.66 L107.85 169.84 L108.90 170.00 L109.95 170.15 L111.00 170.27 L112.05 170.38 L113.10 170.46 L114.15 170.53 L115.21 170.58 L116.26 170.62 L117.31 170.63 L118.36 170.62 L119.41 170.60 L120.46 170.56 L121.50 170.50 L122.54 170.53 L123.59 170.54 L124.64 170.54 L125.68 170.51 L126.73 170.47 L127.78 170.41 L128.82 170.33 L129.87 170.23 L130.91 170.12 L131.95 169.99 L132.99 169.83 L134.03 169.66 L135.07 169.47 L136.10 169.27 L137.13 169.04 L138.16 168.80 L139.18 168.54 L140.20 168.26 L141.22 167.96 L142.23 167.65 L143.23 167.31 L144.23 166.96 L145.23 166.59 L146.21 166.21 L147.20 165.80 L148.17 165.38 L149.14 164.94 L150.10 164.49 L151.05 164.02 L152.00 163.53 L152.81 162.80 L153.60 162.07 L154.37 161.32 L155.13 160.56 L155.88 159.79 L156.60 159.01 L157.31 158.22 L158.00 157.42 L158.68 156.61 L159.34 155.79 L159.98 154.97 L160.60 154.13 L161.21 153.28 L161.80 152.43 L162.37 151.57 L162.92 150.70 L163.46 149.83 L163.98 148.95 L164.48 148.06 L164.96 147.17 L165.42 146.27 L165.87 145.37 L166.30 144.46 L166.71 143.55 L167.10 142.63 L167.47 141.71 L167.83 140.79 L168.17 139.86 L168.48 138.93 L168.78 138.00 L169.30 137.19 L169.79 136.38 L170.27 135.55 L170.74 134.72 L171.20 133.87 L171.64 133.02 L172.06 132.16 L172.47 131.29 L172.87 130.42 L173.25 129.53 L173.61 128.64 L173.96 127.75 L174.29 126.84 L174.61 125.93 L174.92 125.01 L175.20 124.09 L175.47 123.16 L175.73 122.23 L175.97 121.29 L176.19 120.34 L176.40 119.39 L176.59 118.44 L176.76 117.48 L176.91 116.52 L177.05 115.56 L177.18 114.59 L177.28 113.62 L177.37 112.65 L177.44 111.68 L177.50 110.70Z" fill="none" stroke="#f5631c" stroke-width="1.20" stroke-linejoin="round"/>
<circle cx="177.50" cy="110.70" r="2.05" fill="#f5631c"/>
<circle cx="170.34" cy="82.50" r="2.05" fill="#f5631c"/>
<circle cx="149.10" cy="62.90" r="2.05" fill="#f5631c"/>
<circle cx="121.50" cy="54.40" r="2.05" fill="#f5631c"/>
<circle cx="90.60" cy="79.80" r="2.05" fill="#f5631c"/>
<circle cx="58.60" cy="110.70" r="2.05" fill="#f5631c"/>
<circle cx="77.02" cy="155.18" r="2.05" fill="#f5631c"/>
<circle cx="121.50" cy="170.50" r="2.05" fill="#f5631c"/>
<circle cx="152.00" cy="163.53" r="2.05" fill="#f5631c"/>
<circle cx="168.78" cy="138.00" r="2.05" fill="#f5631c"/>
<path d="M196.00 110.70 L195.91 109.40 L195.79 108.11 L195.66 106.81 L195.50 105.53 L195.32 104.24 L195.11 102.96 L194.89 101.69 L194.64 100.42 L194.37 99.16 L194.08 97.90 L193.77 96.65 L193.43 95.41 L193.08 94.18 L192.70 92.95 L192.30 91.73 L191.88 90.52 L191.44 89.32 L190.98 88.12 L190.50 86.94 L190.00 85.77 L189.48 84.60 L188.94 83.45 L188.38 82.31 L187.81 81.18 L187.21 80.06 L186.59 78.95 L185.96 77.86 L185.30 76.78 L184.63 75.71 L183.94 74.65 L183.14 73.66 L182.33 72.69 L181.50 71.74 L180.65 70.80 L179.80 69.88 L178.92 68.98 L178.04 68.10 L177.14 67.23 L176.23 66.38 L175.30 65.55 L174.36 64.75 L173.42 63.95 L172.46 63.18 L171.48 62.43 L170.50 61.70 L169.51 60.98 L168.51 60.29 L167.50 59.62 L166.48 58.96 L165.45 58.33 L164.41 57.71 L163.36 57.12 L162.31 56.55 L161.25 55.99 L160.18 55.46 L159.10 54.95 L158.02 54.46 L156.94 53.99 L155.85 53.54 L154.75 53.11 L153.74 52.54 L152.71 52.00 L151.68 51.47 L150.64 50.95 L149.59 50.46 L148.53 49.99 L147.47 49.53 L146.39 49.09 L145.31 48.67 L144.22 48.27 L143.13 47.89 L142.02 47.53 L140.92 47.19 L139.80 46.87 L138.69 46.56 L137.56 46.28 L136.43 46.01 L135.30 45.77 L134.16 45.55 L133.02 45.34 L131.88 45.16 L130.73 44.99 L129.59 44.85 L128.43 44.72 L127.28 44.62 L126.13 44.53 L124.97 44.47 L123.81 44.43 L122.66 44.40 L121.50 44.40 L120.34 44.41 L119.19 44.44 L118.03 44.48 L116.87 44.55 L115.72 44.64 L114.57 44.75 L113.42 44.88 L112.27 45.03 L111.13 45.20 L109.98 45.39 L108.84 45.59 L107.71 45.82 L106.58 46.07 L105.45 46.34 L104.33 46.63 L103.22 46.93 L102.10 47.26 L101.00 47.61 L99.90 47.97 L98.81 48.36 L97.72 48.76 L96.65 49.18 L95.57 49.62 L94.51 50.08 L93.46 50.56 L92.41 51.06 L91.37 51.57 L90.34 52.11 L89.33 52.66 L88.32 53.22 L87.32 53.81 L86.33 54.41 L85.35 55.03 L84.38 55.67 L83.43 56.33 L82.48 57.00 L81.55 57.68 L80.63 58.39 L79.72 59.11 L78.83 59.84 L77.94 60.59 L77.07 61.36 L76.22 62.14 L75.38 62.94 L74.55 63.75 L73.55 64.39 L72.56 65.06 L71.58 65.75 L70.60 66.46 L69.64 67.18 L68.69 67.93 L67.74 68.70 L66.81 69.49 L65.89 70.30 L64.98 71.12 L64.08 71.97 L63.20 72.84 L62.32 73.72 L61.46 74.63 L60.62 75.55 L59.79 76.49 L58.97 77.45 L58.17 78.43 L57.38 79.43 L56.61 80.44 L55.85 81.47 L55.11 82.52 L54.39 83.59 L53.68 84.67 L53.00 85.77 L52.33 86.88 L51.67 88.01 L51.04 89.16 L50.42 90.32 L49.83 91.50 L49.25 92.69 L48.70 93.89 L48.16 95.11 L47.64 96.34 L47.15 97.59 L46.67 98.85 L46.22 100.12 L45.79 101.40 L45.38 102.70 L44.99 104.01 L44.63 105.32 L44.29 106.65 L43.97 107.99 L43.67 109.34 L43.40 110.70 L43.49 112.06 L43.61 113.42 L43.75 114.77 L43.91 116.13 L44.10 117.47 L44.31 118.81 L44.54 120.15 L44.79 121.48 L45.07 122.80 L45.37 124.12 L45.70 125.43 L46.05 126.74 L46.42 128.03 L46.81 129.32 L47.22 130.60 L47.66 131.87 L48.11 133.14 L48.59 134.39 L49.09 135.63 L49.61 136.86 L50.16 138.09 L50.72 139.30 L51.30 140.50 L51.91 141.69 L52.53 142.86 L53.17 144.02 L53.84 145.18 L54.52 146.31 L55.22 147.44 L55.94 148.55 L56.68 149.65 L57.44 150.73 L58.21 151.80 L59.01 152.85 L59.82 153.89 L60.65 154.91 L61.49 155.92 L62.35 156.91 L63.23 157.89 L64.12 158.84 L65.03 159.79 L65.96 160.71 L66.90 161.62 L67.85 162.51 L68.82 163.38 L69.87 164.17 L70.93 164.93 L72.00 165.68 L73.08 166.40 L74.17 167.11 L75.27 167.79 L76.38 168.45 L77.50 169.09 L78.63 169.71 L79.76 170.31 L80.91 170.88 L82.06 171.44 L83.22 171.97 L84.38 172.48 L85.55 172.97 L86.73 173.43 L87.91 173.88 L89.09 174.30 L90.29 174.70 L91.48 175.08 L92.68 175.43 L93.88 175.77 L95.09 176.08 L96.29 176.37 L97.50 176.64 L98.71 176.88 L99.92 177.10 L101.14 177.30 L102.35 177.48 L103.56 177.64 L104.78 177.77 L105.99 177.89 L107.20 177.98 L108.41 178.05 L109.62 178.09 L110.82 178.12 L112.02 178.12 L113.22 178.11 L114.42 178.07 L115.61 178.01 L116.80 177.93 L117.98 177.83 L119.16 177.71 L120.33 177.56 L121.50 177.40 L122.66 176.97 L123.80 176.51 L124.92 176.04 L126.03 175.55 L127.13 175.04 L128.21 174.51 L129.27 173.96 L130.31 173.40 L131.34 172.82 L132.35 172.22 L133.34 171.60 L134.31 170.97 L135.27 170.33 L136.20 169.67 L137.12 168.99 L138.02 168.31 L138.90 167.60 L139.76 166.89 L140.60 166.16 L141.42 165.42 L142.22 164.67 L143.00 163.91 L143.76 163.14 L144.50 162.35 L145.22 161.56 L145.91 160.76 L146.59 159.95 L147.25 159.13 L147.88 158.30 L148.50 157.47 L149.65 157.55 L150.81 157.61 L151.98 157.64 L153.17 157.65 L154.36 157.62 L155.56 157.57 L156.76 157.50 L157.98 157.39 L159.20 157.26 L160.43 157.10 L161.67 156.91 L162.91 156.69 L164.15 156.44 L165.40 156.16 L166.65 155.85 L167.90 155.51 L169.16 155.14 L170.41 154.74 L171.67 154.31 L172.93 153.85 L174.18 153.36 L175.44 152.84 L176.69 152.29 L177.94 151.70 L179.18 151.09 L180.42 150.44 L181.66 149.77 L182.89 149.06 L184.11 148.32 L185.33 147.55 L185.98 146.44 L186.62 145.33 L187.24 144.20 L187.84 143.05 L188.42 141.90 L188.97 140.74 L189.51 139.57 L190.03 138.39 L190.53 137.20 L191.01 136.00 L191.46 134.79 L191.90 133.57 L192.31 132.35 L192.70 131.12 L193.08 129.88 L193.42 128.63 L193.75 127.38 L194.06 126.12 L194.34 124.86 L194.61 123.59 L194.85 122.32 L195.06 121.04 L195.26 119.76 L195.43 118.47 L195.58 117.18 L195.71 115.89 L195.82 114.59 L195.90 113.30 L195.96 112.00 L196.00 110.70Z" fill="none" stroke="#8a1212" stroke-width="1.20" stroke-linejoin="round"/>
<circle cx="196.00" cy="110.70" r="2.05" fill="#8a1212"/>
<circle cx="183.94" cy="74.65" r="2.05" fill="#8a1212"/>
<circle cx="154.75" cy="53.11" r="2.05" fill="#8a1212"/>
<circle cx="121.50" cy="44.40" r="2.05" fill="#8a1212"/>
<circle cx="74.55" cy="63.75" r="2.05" fill="#8a1212"/>
<circle cx="43.40" cy="110.70" r="2.05" fill="#8a1212"/>
<circle cx="68.82" cy="163.38" r="2.05" fill="#8a1212"/>
<circle cx="121.50" cy="177.40" r="2.05" fill="#8a1212"/>
<circle cx="148.50" cy="157.47" r="2.05" fill="#8a1212"/>
<circle cx="185.33" cy="147.55" r="2.05" fill="#8a1212"/>
<g font-family='"Liberation Sans", sans-serif' font-size="10.30" fill="#2a2a2a" stroke="#2a2a2a" stroke-width="0.10">
<text x="121.45" y="13.40" text-anchor="middle">90<tspan font-size="9.79" dx="0.4" dy="-0.5">°</tspan></text>
<text x="177.00" y="26.00" text-anchor="middle">60<tspan font-size="9.79" dx="0.4" dy="-0.5">°</tspan></text>
<text x="212.00" y="61.00" text-anchor="middle">30<tspan font-size="9.79" dx="0.4" dy="-0.5">°</tspan></text>
<text x="221.95" y="114.60" text-anchor="middle">0<tspan font-size="9.79" dx="0.4" dy="-0.5">°</tspan></text>
<text x="214.60" y="167.90" text-anchor="middle">330<tspan font-size="9.79" dx="0.4" dy="-0.5">°</tspan></text>
<text x="179.80" y="203.00" text-anchor="middle">300<tspan font-size="9.79" dx="0.4" dy="-0.5">°</tspan></text>
<text x="121.30" y="216.10" text-anchor="middle">270<tspan font-size="9.79" dx="0.4" dy="-0.5">°</tspan></text>
<text x="63.10" y="203.00" text-anchor="middle">240<tspan font-size="9.79" dx="0.4" dy="-0.5">°</tspan></text>
<text x="28.00" y="167.90" text-anchor="middle">210<tspan font-size="9.79" dx="0.4" dy="-0.5">°</tspan></text>
<text x="15.65" y="114.50" text-anchor="middle">180<tspan font-size="9.79" dx="0.4" dy="-0.5">°</tspan></text>
<text x="28.55" y="61.10" text-anchor="middle">150<tspan font-size="9.79" dx="0.4" dy="-0.5">°</tspan></text>
<text x="63.40" y="26.40" text-anchor="middle">120<tspan font-size="9.79" dx="0.4" dy="-0.5">°</tspan></text>
<text x="121.50" y="114.60" text-anchor="middle">20 dB</text>
<text x="125.50" y="91.90" text-anchor="middle">30 dB</text>
<text x="129.51" y="69.20" text-anchor="middle">40 dB</text>
<text x="133.51" y="46.50" text-anchor="middle">50 dB</text>
<text x="137.51" y="23.80" text-anchor="middle">60 dB</text>
</g>
<circle cx="441.50" cy="110.70" r="4.61" fill="none" stroke="#f6f6f6" stroke-width="0.5"/>
<circle cx="441.50" cy="110.70" r="9.22" fill="none" stroke="#f6f6f6" stroke-width="0.5"/>
<circle cx="441.50" cy="110.70" r="13.83" fill="none" stroke="#f6f6f6" stroke-width="0.5"/>
<circle cx="441.50" cy="110.70" r="18.44" fill="none" stroke="#f6f6f6" stroke-width="0.5"/>
<circle cx="441.50" cy="110.70" r="27.66" fill="none" stroke="#f6f6f6" stroke-width="0.5"/>
<circle cx="441.50" cy="110.70" r="32.27" fill="none" stroke="#f6f6f6" stroke-width="0.5"/>
<circle cx="441.50" cy="110.70" r="36.88" fill="none" stroke="#f6f6f6" stroke-width="0.5"/>
<circle cx="441.50" cy="110.70" r="41.49" fill="none" stroke="#f6f6f6" stroke-width="0.5"/>
<circle cx="441.50" cy="110.70" r="50.71" fill="none" stroke="#f6f6f6" stroke-width="0.5"/>
<circle cx="441.50" cy="110.70" r="55.32" fill="none" stroke="#f6f6f6" stroke-width="0.5"/>
<circle cx="441.50" cy="110.70" r="59.93" fill="none" stroke="#f6f6f6" stroke-width="0.5"/>
<circle cx="441.50" cy="110.70" r="64.54" fill="none" stroke="#f6f6f6" stroke-width="0.5"/>
<circle cx="441.50" cy="110.70" r="73.76" fill="none" stroke="#f6f6f6" stroke-width="0.5"/>
<circle cx="441.50" cy="110.70" r="78.37" fill="none" stroke="#f6f6f6" stroke-width="0.5"/>
<circle cx="441.50" cy="110.70" r="82.98" fill="none" stroke="#f6f6f6" stroke-width="0.5"/>
<circle cx="441.50" cy="110.70" r="87.59" fill="none" stroke="#f6f6f6" stroke-width="0.5"/>
<line x1="441.50" y1="110.70" x2="532.30" y2="94.69" stroke="#f6f6f6" stroke-width="0.5"/>
<line x1="441.50" y1="110.70" x2="528.14" y2="79.17" stroke="#f6f6f6" stroke-width="0.5"/>
<line x1="441.50" y1="110.70" x2="512.13" y2="51.43" stroke="#f6f6f6" stroke-width="0.5"/>
<line x1="441.50" y1="110.70" x2="500.77" y2="40.07" stroke="#f6f6f6" stroke-width="0.5"/>
<line x1="441.50" y1="110.70" x2="473.03" y2="24.06" stroke="#f6f6f6" stroke-width="0.5"/>
<line x1="441.50" y1="110.70" x2="457.51" y2="19.90" stroke="#f6f6f6" stroke-width="0.5"/>
<line x1="441.50" y1="110.70" x2="425.49" y2="19.90" stroke="#f6f6f6" stroke-width="0.5"/>
<line x1="441.50" y1="110.70" x2="409.97" y2="24.06" stroke="#f6f6f6" stroke-width="0.5"/>
<line x1="441.50" y1="110.70" x2="382.23" y2="40.07" stroke="#f6f6f6" stroke-width="0.5"/>
<line x1="441.50" y1="110.70" x2="370.87" y2="51.43" stroke="#f6f6f6" stroke-width="0.5"/>
<line x1="441.50" y1="110.70" x2="354.86" y2="79.17" stroke="#f6f6f6" stroke-width="0.5"/>
<line x1="441.50" y1="110.70" x2="350.70" y2="94.69" stroke="#f6f6f6" stroke-width="0.5"/>
<line x1="441.50" y1="110.70" x2="350.70" y2="126.71" stroke="#f6f6f6" stroke-width="0.5"/>
<line x1="441.50" y1="110.70" x2="354.86" y2="142.23" stroke="#f6f6f6" stroke-width="0.5"/>
<line x1="441.50" y1="110.70" x2="370.87" y2="169.97" stroke="#f6f6f6" stroke-width="0.5"/>
<line x1="441.50" y1="110.70" x2="382.23" y2="181.33" stroke="#f6f6f6" stroke-width="0.5"/>
<line x1="441.50" y1="110.70" x2="409.97" y2="197.34" stroke="#f6f6f6" stroke-width="0.5"/>
<line x1="441.50" y1="110.70" x2="425.49" y2="201.50" stroke="#f6f6f6" stroke-width="0.5"/>
<line x1="441.50" y1="110.70" x2="457.51" y2="201.50" stroke="#f6f6f6" stroke-width="0.5"/>
<line x1="441.50" y1="110.70" x2="473.03" y2="197.34" stroke="#f6f6f6" stroke-width="0.5"/>
<line x1="441.50" y1="110.70" x2="500.77" y2="181.33" stroke="#f6f6f6" stroke-width="0.5"/>
<line x1="441.50" y1="110.70" x2="512.13" y2="169.97" stroke="#f6f6f6" stroke-width="0.5"/>
<line x1="441.50" y1="110.70" x2="528.14" y2="142.23" stroke="#f6f6f6" stroke-width="0.5"/>
<line x1="441.50" y1="110.70" x2="532.30" y2="126.71" stroke="#f6f6f6" stroke-width="0.5"/>
<circle cx="441.50" cy="110.70" r="23.05" fill="none" stroke="#ebebeb" stroke-width="0.7"/>
<circle cx="441.50" cy="110.70" r="46.10" fill="none" stroke="#ebebeb" stroke-width="0.7"/>
<circle cx="441.50" cy="110.70" r="69.15" fill="none" stroke="#ebebeb" stroke-width="0.7"/>
<line x1="441.50" y1="110.70" x2="533.70" y2="110.70" stroke="#ebebeb" stroke-width="0.7"/>
<line x1="441.50" y1="110.70" x2="521.35" y2="64.60" stroke="#ebebeb" stroke-width="0.7"/>
<line x1="441.50" y1="110.70" x2="487.60" y2="30.85" stroke="#ebebeb" stroke-width="0.7"/>
<line x1="441.50" y1="110.70" x2="441.50" y2="18.50" stroke="#ebebeb" stroke-width="0.7"/>
<line x1="441.50" y1="110.70" x2="395.40" y2="30.85" stroke="#ebebeb" stroke-width="0.7"/>
<line x1="441.50" y1="110.70" x2="361.65" y2="64.60" stroke="#ebebeb" stroke-width="0.7"/>
<line x1="441.50" y1="110.70" x2="349.30" y2="110.70" stroke="#ebebeb" stroke-width="0.7"/>
<line x1="441.50" y1="110.70" x2="361.65" y2="156.80" stroke="#ebebeb" stroke-width="0.7"/>
<line x1="441.50" y1="110.70" x2="395.40" y2="190.55" stroke="#ebebeb" stroke-width="0.7"/>
<line x1="441.50" y1="110.70" x2="441.50" y2="202.90" stroke="#ebebeb" stroke-width="0.7"/>
<line x1="441.50" y1="110.70" x2="487.60" y2="190.55" stroke="#ebebeb" stroke-width="0.7"/>
<line x1="441.50" y1="110.70" x2="521.35" y2="156.80" stroke="#ebebeb" stroke-width="0.7"/>
<circle cx="441.50" cy="110.70" r="92.20" fill="none" stroke="#dadada" stroke-width="0.9"/>
<circle cx="441.50" cy="110.70" r="5" fill="url(#cg)"/>
<path d="M468.20 110.70 L468.15 110.23 L468.10 109.77 L468.03 109.31 L467.96 108.85 L467.88 108.39 L467.80 107.94 L467.70 107.48 L467.60 107.03 L467.49 106.58 L467.37 106.14 L467.24 105.70 L467.11 105.26 L466.97 104.82 L466.82 104.39 L466.66 103.96 L466.50 103.53 L466.33 103.11 L466.15 102.69 L465.97 102.28 L465.78 101.86 L465.58 101.46 L465.37 101.06 L465.16 100.66 L464.94 100.26 L464.72 99.87 L464.49 99.49 L464.25 99.11 L464.00 98.73 L463.75 98.36 L463.50 98.00 L463.01 97.77 L462.53 97.56 L462.05 97.36 L461.56 97.17 L461.08 96.99 L460.59 96.83 L460.11 96.68 L459.62 96.54 L459.14 96.41 L458.66 96.30 L458.18 96.20 L457.70 96.11 L457.22 96.04 L456.75 95.97 L456.28 95.92 L455.81 95.88 L455.34 95.85 L454.88 95.84 L454.42 95.83 L453.97 95.84 L453.52 95.86 L453.07 95.89 L452.63 95.93 L452.20 95.98 L451.77 96.04 L451.34 96.11 L450.92 96.19 L450.51 96.28 L450.10 96.39 L449.70 96.50 L449.38 96.48 L449.06 96.48 L448.75 96.48 L448.43 96.49 L448.12 96.50 L447.81 96.52 L447.51 96.55 L447.20 96.58 L446.90 96.62 L446.61 96.67 L446.31 96.72 L446.02 96.78 L445.74 96.84 L445.45 96.91 L445.18 96.98 L444.90 97.06 L444.63 97.15 L444.36 97.24 L444.10 97.34 L443.84 97.44 L443.58 97.54 L443.33 97.65 L443.09 97.77 L442.85 97.89 L442.61 98.02 L442.38 98.14 L442.15 98.28 L441.93 98.41 L441.71 98.56 L441.50 98.70 L441.29 98.66 L441.08 98.63 L440.87 98.60 L440.65 98.57 L440.44 98.55 L440.22 98.53 L440.00 98.51 L439.79 98.50 L439.57 98.49 L439.35 98.49 L439.13 98.49 L438.91 98.49 L438.68 98.50 L438.46 98.51 L438.24 98.53 L438.02 98.55 L437.79 98.57 L437.57 98.60 L437.35 98.64 L437.12 98.67 L436.90 98.71 L436.68 98.76 L436.45 98.81 L436.23 98.86 L436.01 98.92 L435.78 98.98 L435.56 99.05 L435.34 99.12 L435.12 99.19 L434.90 99.27 L434.68 99.35 L434.46 99.44 L434.25 99.53 L434.03 99.62 L433.81 99.72 L433.60 99.83 L433.39 99.93 L433.18 100.05 L432.97 100.16 L432.76 100.28 L432.55 100.41 L432.35 100.53 L432.14 100.67 L431.94 100.80 L431.74 100.94 L431.49 101.04 L431.25 101.14 L431.00 101.25 L430.76 101.36 L430.51 101.48 L430.27 101.60 L430.02 101.73 L429.78 101.87 L429.54 102.01 L429.30 102.16 L429.07 102.31 L428.83 102.47 L428.60 102.64 L428.36 102.81 L428.13 102.98 L427.91 103.16 L427.68 103.35 L427.46 103.55 L427.24 103.74 L427.02 103.95 L426.80 104.16 L426.59 104.37 L426.38 104.59 L426.18 104.82 L425.97 105.05 L425.77 105.29 L425.58 105.53 L425.39 105.77 L425.20 106.03 L425.01 106.28 L424.83 106.54 L424.66 106.81 L424.49 107.08 L424.32 107.36 L424.16 107.64 L424.00 107.93 L423.84 108.22 L423.70 108.51 L423.55 108.81 L423.41 109.12 L423.28 109.43 L423.15 109.74 L423.03 110.05 L422.91 110.38 L422.80 110.70 L422.88 111.03 L422.97 111.35 L423.06 111.67 L423.16 111.98 L423.26 112.30 L423.37 112.61 L423.48 112.91 L423.60 113.22 L423.72 113.52 L423.85 113.81 L423.98 114.10 L424.12 114.39 L424.26 114.68 L424.41 114.96 L424.56 115.24 L424.72 115.51 L424.88 115.78 L425.05 116.05 L425.22 116.31 L425.39 116.56 L425.57 116.82 L425.75 117.06 L425.93 117.31 L426.12 117.55 L426.31 117.78 L426.51 118.01 L426.71 118.24 L426.91 118.46 L427.12 118.67 L427.33 118.88 L427.54 119.09 L427.75 119.29 L427.97 119.49 L428.19 119.68 L428.41 119.86 L428.64 120.05 L428.86 120.22 L429.09 120.39 L429.32 120.56 L429.56 120.72 L429.79 120.88 L430.03 121.03 L430.27 121.17 L430.51 121.31 L430.75 121.45 L430.99 121.58 L431.23 121.72 L431.47 121.84 L431.71 121.96 L431.95 122.08 L432.19 122.19 L432.44 122.30 L432.68 122.40 L432.93 122.50 L433.18 122.59 L433.42 122.67 L433.67 122.75 L433.92 122.83 L434.17 122.90 L434.42 122.97 L434.67 123.03 L434.91 123.09 L435.16 123.14 L435.41 123.19 L435.66 123.23 L435.91 123.26 L436.15 123.30 L436.40 123.32 L436.65 123.35 L436.89 123.36 L437.13 123.38 L437.38 123.39 L437.62 123.39 L437.86 123.39 L438.10 123.39 L438.34 123.38 L438.58 123.36 L438.81 123.34 L439.05 123.32 L439.28 123.29 L439.51 123.26 L439.74 123.23 L439.97 123.19 L440.19 123.14 L440.42 123.10 L440.64 123.05 L440.86 122.99 L441.07 122.93 L441.29 122.87 L441.50 122.80 L441.72 123.14 L441.95 123.49 L442.19 123.82 L442.44 124.15 L442.71 124.48 L442.98 124.80 L443.27 125.12 L443.57 125.43 L443.88 125.73 L444.20 126.03 L444.54 126.32 L444.88 126.60 L445.24 126.88 L445.60 127.15 L445.98 127.41 L446.36 127.66 L446.76 127.91 L447.17 128.14 L447.58 128.37 L448.01 128.59 L448.45 128.79 L448.89 128.99 L449.34 129.18 L449.81 129.35 L450.28 129.52 L450.76 129.68 L451.24 129.82 L451.74 129.95 L452.24 130.08 L452.75 130.19 L453.22 130.20 L453.69 130.21 L454.17 130.21 L454.65 130.19 L455.13 130.17 L455.62 130.13 L456.11 130.09 L456.60 130.03 L457.09 129.96 L457.59 129.88 L458.09 129.78 L458.59 129.68 L459.09 129.56 L459.59 129.44 L460.10 129.30 L460.60 129.15 L461.11 128.98 L461.61 128.81 L462.11 128.62 L462.62 128.42 L463.12 128.21 L463.62 127.98 L464.12 127.75 L464.62 127.50 L465.12 127.24 L465.61 126.97 L466.11 126.68 L466.60 126.38 L467.08 126.07 L467.57 125.75 L467.73 125.24 L467.88 124.72 L468.02 124.21 L468.15 123.70 L468.27 123.18 L468.38 122.67 L468.48 122.15 L468.57 121.64 L468.65 121.12 L468.72 120.61 L468.78 120.09 L468.83 119.58 L468.88 119.07 L468.91 118.56 L468.93 118.05 L468.95 117.54 L468.95 117.04 L468.95 116.53 L468.93 116.03 L468.91 115.53 L468.88 115.04 L468.84 114.54 L468.79 114.05 L468.73 113.56 L468.66 113.08 L468.59 112.59 L468.50 112.12 L468.41 111.64 L468.31 111.17 L468.20 110.70Z" fill="none" stroke="#30123b" stroke-width="1.20" stroke-linejoin="round"/>
<circle cx="468.20" cy="110.70" r="2.05" fill="#30123b"/>
<circle cx="463.50" cy="98.00" r="2.05" fill="#30123b"/>
<circle cx="449.70" cy="96.50" r="2.05" fill="#30123b"/>
<circle cx="441.50" cy="98.70" r="2.05" fill="#30123b"/>
<circle cx="431.74" cy="100.94" r="2.05" fill="#30123b"/>
<circle cx="422.80" cy="110.70" r="2.05" fill="#30123b"/>
<circle cx="430.75" cy="121.45" r="2.05" fill="#30123b"/>
<circle cx="441.50" cy="122.80" r="2.05" fill="#30123b"/>
<circle cx="452.75" cy="130.19" r="2.05" fill="#30123b"/>
<circle cx="467.57" cy="125.75" r="2.05" fill="#30123b"/>
<path d="M478.90 110.70 L478.80 110.05 L478.69 109.40 L478.57 108.76 L478.44 108.12 L478.29 107.48 L478.14 106.85 L477.97 106.22 L477.80 105.60 L477.61 104.98 L477.41 104.37 L477.21 103.76 L476.99 103.16 L476.76 102.56 L476.52 101.97 L476.27 101.38 L476.02 100.80 L475.75 100.23 L475.47 99.66 L475.19 99.10 L474.89 98.55 L474.59 98.00 L474.27 97.46 L473.95 96.93 L473.62 96.40 L473.28 95.88 L472.93 95.37 L472.58 94.86 L472.21 94.37 L471.84 93.88 L471.46 93.40 L470.69 93.16 L469.92 92.94 L469.15 92.74 L468.38 92.57 L467.62 92.41 L466.85 92.28 L466.10 92.17 L465.34 92.07 L464.59 92.00 L463.84 91.95 L463.10 91.92 L462.37 91.91 L461.64 91.92 L460.92 91.95 L460.20 92.00 L459.50 92.06 L458.80 92.15 L458.11 92.26 L457.43 92.38 L456.76 92.52 L456.09 92.68 L455.44 92.85 L454.80 93.05 L454.17 93.26 L453.55 93.48 L452.95 93.73 L452.35 93.99 L451.77 94.26 L451.21 94.55 L450.65 94.85 L450.28 94.87 L449.90 94.90 L449.54 94.93 L449.17 94.97 L448.81 95.02 L448.46 95.08 L448.10 95.14 L447.76 95.22 L447.41 95.30 L447.07 95.38 L446.74 95.48 L446.41 95.58 L446.09 95.69 L445.77 95.80 L445.46 95.92 L445.15 96.05 L444.85 96.18 L444.56 96.32 L444.27 96.47 L443.98 96.62 L443.71 96.77 L443.43 96.94 L443.17 97.10 L442.91 97.27 L442.66 97.45 L442.41 97.63 L442.18 97.82 L441.94 98.01 L441.72 98.20 L441.50 98.40 L441.28 97.98 L441.04 97.57 L440.79 97.16 L440.52 96.75 L440.24 96.35 L439.95 95.96 L439.64 95.57 L439.32 95.19 L438.98 94.82 L438.63 94.45 L438.27 94.09 L437.89 93.74 L437.50 93.40 L437.10 93.06 L436.69 92.73 L436.26 92.42 L435.82 92.11 L435.36 91.81 L434.90 91.52 L434.42 91.25 L433.93 90.98 L433.43 90.73 L432.92 90.49 L432.40 90.25 L431.86 90.04 L431.32 89.83 L430.77 89.64 L430.20 89.46 L429.63 89.29 L429.05 89.14 L428.46 89.00 L427.86 88.87 L427.25 88.76 L426.64 88.66 L426.01 88.58 L425.38 88.52 L424.75 88.47 L424.10 88.43 L423.45 88.41 L422.79 88.41 L422.13 88.42 L421.47 88.45 L420.79 88.50 L420.12 88.56 L419.44 88.64 L418.98 88.96 L418.53 89.28 L418.09 89.62 L417.64 89.96 L417.21 90.32 L416.78 90.68 L416.35 91.05 L415.93 91.43 L415.51 91.82 L415.11 92.22 L414.70 92.62 L414.30 93.04 L413.91 93.46 L413.53 93.89 L413.15 94.33 L412.78 94.78 L412.42 95.24 L412.06 95.70 L411.71 96.17 L411.37 96.65 L411.04 97.14 L410.71 97.63 L410.39 98.13 L410.08 98.64 L409.78 99.15 L409.49 99.68 L409.20 100.21 L408.93 100.74 L408.66 101.28 L408.40 101.83 L408.15 102.39 L407.91 102.95 L407.68 103.51 L407.46 104.08 L407.25 104.66 L407.05 105.24 L406.86 105.83 L406.68 106.42 L406.51 107.02 L406.35 107.62 L406.20 108.23 L406.06 108.84 L405.93 109.46 L405.81 110.08 L405.70 110.70 L405.71 111.32 L405.73 111.95 L405.76 112.57 L405.80 113.20 L405.86 113.82 L405.92 114.44 L406.00 115.06 L406.08 115.68 L406.18 116.29 L406.29 116.91 L406.41 117.52 L406.53 118.13 L406.67 118.74 L406.82 119.35 L406.98 119.95 L407.16 120.55 L407.34 121.14 L407.53 121.74 L407.73 122.33 L407.94 122.91 L408.16 123.50 L408.40 124.07 L408.64 124.65 L408.89 125.22 L409.15 125.78 L409.43 126.34 L409.71 126.90 L410.00 127.45 L410.30 127.99 L410.61 128.53 L410.93 129.07 L411.26 129.60 L411.60 130.12 L411.95 130.63 L412.30 131.14 L412.67 131.65 L413.04 132.15 L413.42 132.64 L413.81 133.12 L414.21 133.60 L414.62 134.07 L415.03 134.53 L415.46 134.99 L415.89 135.43 L416.33 135.87 L417.06 136.01 L417.78 136.13 L418.51 136.23 L419.23 136.32 L419.95 136.39 L420.66 136.44 L421.36 136.47 L422.07 136.49 L422.76 136.49 L423.45 136.48 L424.14 136.44 L424.81 136.40 L425.48 136.33 L426.14 136.26 L426.80 136.16 L427.45 136.05 L428.09 135.93 L428.72 135.79 L429.34 135.64 L429.95 135.47 L430.55 135.29 L431.14 135.10 L431.73 134.89 L432.30 134.67 L432.86 134.44 L433.41 134.20 L433.95 133.94 L434.48 133.68 L434.99 133.40 L435.50 133.11 L435.99 132.81 L436.47 132.50 L436.93 132.18 L437.39 131.85 L437.83 131.51 L438.26 131.16 L438.67 130.81 L439.08 130.45 L439.46 130.07 L439.84 129.69 L440.20 129.31 L440.55 128.92 L440.88 128.52 L441.20 128.11 L441.50 127.70 L441.80 128.13 L442.12 128.56 L442.46 128.98 L442.81 129.40 L443.17 129.81 L443.55 130.21 L443.94 130.61 L444.35 130.99 L444.77 131.37 L445.21 131.74 L445.66 132.10 L446.12 132.45 L446.60 132.80 L447.09 133.13 L447.60 133.45 L448.11 133.76 L448.64 134.06 L449.18 134.34 L449.74 134.62 L450.30 134.88 L450.88 135.13 L451.47 135.37 L452.07 135.59 L452.68 135.80 L453.30 136.00 L453.93 136.18 L454.57 136.35 L455.22 136.51 L455.88 136.64 L456.55 136.77 L457.17 136.77 L457.79 136.76 L458.41 136.74 L459.04 136.70 L459.67 136.65 L460.31 136.59 L460.95 136.51 L461.59 136.42 L462.24 136.31 L462.88 136.18 L463.53 136.05 L464.18 135.89 L464.84 135.72 L465.49 135.54 L466.14 135.34 L466.80 135.13 L467.45 134.90 L468.10 134.65 L468.76 134.39 L469.41 134.12 L470.06 133.83 L470.71 133.52 L471.36 133.20 L472.00 132.86 L472.64 132.51 L473.28 132.14 L473.91 131.75 L474.55 131.35 L475.17 130.93 L475.79 130.50 L476.07 129.86 L476.34 129.22 L476.59 128.58 L476.83 127.93 L477.06 127.28 L477.27 126.63 L477.48 125.97 L477.67 125.31 L477.85 124.65 L478.02 123.99 L478.18 123.33 L478.32 122.67 L478.46 122.00 L478.58 121.33 L478.69 120.66 L478.79 120.00 L478.87 119.33 L478.94 118.66 L479.00 117.99 L479.05 117.32 L479.09 116.65 L479.12 115.99 L479.13 115.32 L479.13 114.66 L479.12 113.99 L479.10 113.33 L479.07 112.67 L479.02 112.01 L478.97 111.35 L478.90 110.70Z" fill="none" stroke="#3a96f5" stroke-width="1.20" stroke-linejoin="round"/>
<circle cx="478.90" cy="110.70" r="2.05" fill="#3a96f5"/>
<circle cx="471.46" cy="93.40" r="2.05" fill="#3a96f5"/>
<circle cx="450.65" cy="94.85" r="2.05" fill="#3a96f5"/>
<circle cx="441.50" cy="98.40" r="2.05" fill="#3a96f5"/>
<circle cx="419.44" cy="88.64" r="2.05" fill="#3a96f5"/>
<circle cx="405.70" cy="110.70" r="2.05" fill="#3a96f5"/>
<circle cx="416.33" cy="135.87" r="2.05" fill="#3a96f5"/>
<circle cx="441.50" cy="127.70" r="2.05" fill="#3a96f5"/>
<circle cx="456.55" cy="136.77" r="2.05" fill="#3a96f5"/>
<circle cx="475.79" cy="130.50" r="2.05" fill="#3a96f5"/>
<path d="M488.40 110.70 L488.33 109.88 L488.25 109.07 L488.16 108.25 L488.05 107.45 L487.92 106.64 L487.79 105.84 L487.63 105.04 L487.47 104.24 L487.29 103.45 L487.10 102.66 L486.89 101.88 L486.67 101.10 L486.44 100.33 L486.19 99.56 L485.93 98.79 L485.66 98.04 L485.38 97.29 L485.08 96.54 L484.77 95.80 L484.44 95.07 L484.11 94.34 L483.76 93.63 L483.40 92.91 L483.03 92.21 L482.65 91.51 L482.25 90.82 L481.84 90.14 L481.43 89.47 L481.00 88.81 L480.56 88.15 L479.80 87.69 L479.03 87.25 L478.26 86.83 L477.49 86.43 L476.71 86.05 L475.93 85.68 L475.15 85.34 L474.37 85.02 L473.59 84.72 L472.81 84.43 L472.02 84.17 L471.24 83.92 L470.46 83.70 L469.68 83.49 L468.90 83.30 L468.12 83.13 L467.35 82.98 L466.58 82.85 L465.81 82.73 L465.05 82.64 L464.29 82.56 L463.53 82.50 L462.78 82.46 L462.04 82.43 L461.30 82.43 L460.56 82.44 L459.84 82.46 L459.12 82.51 L458.41 82.56 L457.70 82.64 L457.03 82.68 L456.37 82.74 L455.71 82.81 L455.06 82.90 L454.42 83.00 L453.78 83.11 L453.16 83.24 L452.54 83.38 L451.93 83.53 L451.33 83.70 L450.74 83.88 L450.15 84.07 L449.58 84.27 L449.02 84.49 L448.46 84.72 L447.92 84.95 L447.39 85.20 L446.86 85.46 L446.35 85.73 L445.85 86.01 L445.36 86.30 L444.89 86.60 L444.42 86.91 L443.97 87.23 L443.52 87.56 L443.10 87.89 L442.68 88.23 L442.27 88.58 L441.88 88.94 L441.50 89.30 L441.12 88.83 L440.72 88.38 L440.31 87.92 L439.88 87.48 L439.43 87.05 L438.97 86.62 L438.49 86.20 L438.00 85.79 L437.49 85.40 L436.97 85.01 L436.43 84.63 L435.88 84.26 L435.31 83.91 L434.73 83.57 L434.14 83.24 L433.53 82.92 L432.91 82.61 L432.28 82.32 L431.63 82.04 L430.97 81.78 L430.30 81.53 L429.62 81.29 L428.92 81.07 L428.22 80.87 L427.50 80.68 L426.77 80.51 L426.04 80.35 L425.29 80.21 L424.53 80.09 L423.77 79.98 L422.99 79.90 L422.21 79.83 L421.42 79.78 L420.62 79.74 L419.81 79.73 L419.00 79.73 L418.18 79.75 L417.36 79.80 L416.52 79.86 L415.69 79.94 L414.85 80.04 L414.00 80.16 L413.15 80.30 L412.30 80.47 L411.45 80.65 L410.86 81.11 L410.28 81.59 L409.71 82.07 L409.14 82.57 L408.59 83.08 L408.04 83.60 L407.49 84.13 L406.96 84.67 L406.44 85.23 L405.92 85.79 L405.41 86.36 L404.92 86.94 L404.43 87.54 L403.95 88.14 L403.48 88.75 L403.02 89.37 L402.57 90.00 L402.14 90.64 L401.71 91.29 L401.29 91.95 L400.88 92.62 L400.49 93.29 L400.10 93.98 L399.73 94.67 L399.37 95.37 L399.02 96.07 L398.68 96.79 L398.36 97.51 L398.04 98.24 L397.74 98.98 L397.46 99.72 L397.18 100.47 L396.92 101.22 L396.67 101.99 L396.43 102.75 L396.20 103.53 L395.99 104.30 L395.80 105.09 L395.61 105.88 L395.44 106.67 L395.29 107.47 L395.14 108.27 L395.02 109.08 L394.90 109.89 L394.80 110.70 L394.91 111.51 L395.04 112.32 L395.18 113.13 L395.34 113.93 L395.51 114.72 L395.69 115.51 L395.89 116.30 L396.10 117.08 L396.32 117.86 L396.56 118.62 L396.81 119.39 L397.07 120.14 L397.35 120.89 L397.64 121.64 L397.94 122.37 L398.25 123.10 L398.57 123.82 L398.91 124.54 L399.26 125.24 L399.62 125.94 L399.99 126.63 L400.38 127.32 L400.77 127.99 L401.18 128.65 L401.59 129.31 L402.02 129.96 L402.46 130.59 L402.90 131.22 L403.36 131.84 L403.83 132.45 L404.30 133.05 L404.79 133.64 L405.29 134.22 L405.79 134.79 L406.30 135.34 L406.83 135.89 L407.36 136.43 L407.89 136.96 L408.44 137.47 L408.99 137.98 L409.56 138.47 L410.12 138.95 L410.70 139.42 L411.28 139.88 L411.87 140.33 L412.64 140.58 L413.41 140.82 L414.18 141.05 L414.94 141.25 L415.71 141.44 L416.47 141.60 L417.24 141.76 L418.00 141.89 L418.75 142.01 L419.51 142.11 L420.26 142.19 L421.00 142.26 L421.75 142.31 L422.48 142.35 L423.22 142.37 L423.94 142.37 L424.67 142.36 L425.38 142.33 L426.09 142.29 L426.80 142.23 L427.49 142.16 L428.18 142.07 L428.87 141.97 L429.54 141.85 L430.21 141.72 L430.87 141.58 L431.52 141.42 L432.16 141.25 L432.79 141.07 L433.42 140.87 L434.03 140.66 L434.63 140.44 L435.23 140.21 L435.81 139.96 L436.39 139.71 L436.95 139.44 L437.50 139.16 L438.04 138.88 L438.57 138.58 L439.09 138.27 L439.59 137.96 L440.09 137.63 L440.57 137.29 L441.04 136.95 L441.50 136.60 L441.96 136.84 L442.42 137.06 L442.89 137.28 L443.37 137.49 L443.86 137.70 L444.36 137.89 L444.86 138.07 L445.37 138.25 L445.89 138.41 L446.41 138.57 L446.95 138.72 L447.48 138.85 L448.03 138.98 L448.58 139.09 L449.14 139.19 L449.70 139.29 L450.27 139.37 L450.84 139.44 L451.42 139.50 L452.00 139.55 L452.59 139.58 L453.18 139.61 L453.78 139.62 L454.38 139.62 L454.98 139.61 L455.59 139.59 L456.20 139.55 L456.81 139.50 L457.43 139.44 L458.05 139.37 L458.75 139.41 L459.46 139.44 L460.18 139.46 L460.90 139.46 L461.62 139.44 L462.35 139.40 L463.09 139.35 L463.83 139.28 L464.58 139.20 L465.33 139.09 L466.08 138.97 L466.83 138.84 L467.59 138.68 L468.35 138.50 L469.11 138.31 L469.88 138.10 L470.64 137.87 L471.40 137.63 L472.17 137.36 L472.93 137.08 L473.70 136.77 L474.46 136.45 L475.22 136.11 L475.98 135.75 L476.74 135.37 L477.49 134.98 L478.24 134.56 L478.99 134.13 L479.73 133.67 L480.47 133.20 L480.91 132.55 L481.34 131.89 L481.76 131.22 L482.17 130.54 L482.57 129.85 L482.96 129.16 L483.33 128.46 L483.69 127.75 L484.04 127.03 L484.38 126.31 L484.71 125.58 L485.02 124.84 L485.32 124.10 L485.61 123.35 L485.88 122.59 L486.15 121.83 L486.40 121.06 L486.63 120.29 L486.85 119.52 L487.06 118.73 L487.26 117.95 L487.44 117.16 L487.61 116.36 L487.77 115.56 L487.91 114.76 L488.03 113.95 L488.15 113.14 L488.24 112.33 L488.33 111.52 L488.40 110.70Z" fill="none" stroke="#38ec78" stroke-width="1.20" stroke-linejoin="round"/>
<circle cx="488.40" cy="110.70" r="2.05" fill="#38ec78"/>
<circle cx="480.56" cy="88.15" r="2.05" fill="#38ec78"/>
<circle cx="457.70" cy="82.64" r="2.05" fill="#38ec78"/>
<circle cx="441.50" cy="89.30" r="2.05" fill="#38ec78"/>
<circle cx="411.45" cy="80.65" r="2.05" fill="#38ec78"/>
<circle cx="394.80" cy="110.70" r="2.05" fill="#38ec78"/>
<circle cx="411.87" cy="140.33" r="2.05" fill="#38ec78"/>
<circle cx="441.50" cy="136.60" r="2.05" fill="#38ec78"/>
<circle cx="458.05" cy="139.37" r="2.05" fill="#38ec78"/>
<circle cx="480.47" cy="133.20" r="2.05" fill="#38ec78"/>
<path d="M492.70 110.70 L492.66 109.81 L492.61 108.92 L492.54 108.03 L492.46 107.14 L492.36 106.25 L492.24 105.37 L492.11 104.49 L491.96 103.61 L491.80 102.73 L491.63 101.86 L491.44 100.99 L491.23 100.13 L491.01 99.27 L490.77 98.42 L490.52 97.56 L490.26 96.72 L489.98 95.88 L489.68 95.05 L489.37 94.22 L489.05 93.39 L488.71 92.58 L488.36 91.77 L487.99 90.96 L487.62 90.17 L487.22 89.38 L486.82 88.60 L486.40 87.82 L485.97 87.06 L485.52 86.30 L485.06 85.55 L484.28 85.00 L483.49 84.46 L482.70 83.95 L481.90 83.45 L481.09 82.98 L480.28 82.52 L479.47 82.09 L478.66 81.67 L477.84 81.27 L477.02 80.90 L476.20 80.54 L475.37 80.20 L474.55 79.88 L473.72 79.58 L472.90 79.30 L472.07 79.04 L471.24 78.80 L470.42 78.58 L469.60 78.38 L468.78 78.19 L467.96 78.03 L467.14 77.88 L466.33 77.75 L465.52 77.64 L464.71 77.55 L463.91 77.48 L463.11 77.42 L462.32 77.38 L461.53 77.36 L460.75 77.36 L460.11 77.12 L459.47 76.89 L458.83 76.68 L458.19 76.48 L457.55 76.29 L456.90 76.11 L456.25 75.95 L455.60 75.79 L454.95 75.65 L454.30 75.52 L453.65 75.41 L453.00 75.30 L452.35 75.21 L451.70 75.13 L451.05 75.06 L450.40 75.00 L449.75 74.95 L449.11 74.92 L448.46 74.90 L447.82 74.89 L447.17 74.89 L446.53 74.90 L445.89 74.92 L445.26 74.96 L444.62 75.00 L443.99 75.06 L443.36 75.13 L442.74 75.21 L442.12 75.30 L441.50 75.40 L440.88 75.14 L440.25 74.88 L439.61 74.64 L438.96 74.41 L438.31 74.19 L437.64 73.99 L436.97 73.79 L436.29 73.61 L435.60 73.44 L434.90 73.29 L434.20 73.15 L433.49 73.02 L432.77 72.90 L432.05 72.80 L431.32 72.71 L430.58 72.63 L429.84 72.57 L429.10 72.52 L428.34 72.49 L427.59 72.48 L426.83 72.47 L426.06 72.49 L425.29 72.51 L424.52 72.56 L423.74 72.61 L422.96 72.69 L422.18 72.78 L421.39 72.88 L420.61 73.01 L419.82 73.14 L419.03 73.30 L418.23 73.47 L417.44 73.65 L416.65 73.86 L415.85 74.07 L415.06 74.31 L414.27 74.56 L413.48 74.83 L412.69 75.12 L411.90 75.42 L411.11 75.74 L410.32 76.07 L409.54 76.43 L408.76 76.80 L407.98 77.18 L407.27 77.65 L406.57 78.12 L405.87 78.62 L405.18 79.12 L404.49 79.65 L403.81 80.18 L403.14 80.73 L402.48 81.30 L401.83 81.88 L401.18 82.47 L400.54 83.07 L399.91 83.69 L399.29 84.33 L398.68 84.97 L398.08 85.63 L397.49 86.31 L396.91 86.99 L396.34 87.69 L395.79 88.40 L395.24 89.13 L394.70 89.86 L394.18 90.61 L393.67 91.37 L393.17 92.15 L392.68 92.93 L392.20 93.73 L391.74 94.53 L391.29 95.35 L390.86 96.18 L390.43 97.02 L390.03 97.87 L389.63 98.73 L389.25 99.59 L388.89 100.47 L388.54 101.36 L388.20 102.26 L387.88 103.16 L387.58 104.08 L387.29 105.00 L387.02 105.93 L386.76 106.87 L386.52 107.82 L386.30 108.77 L386.09 109.73 L385.90 110.70 L385.94 111.67 L386.00 112.64 L386.08 113.60 L386.17 114.57 L386.28 115.53 L386.40 116.49 L386.55 117.45 L386.71 118.40 L386.88 119.35 L387.07 120.30 L387.28 121.24 L387.51 122.18 L387.75 123.11 L388.00 124.04 L388.28 124.96 L388.57 125.88 L388.87 126.79 L389.19 127.70 L389.53 128.60 L389.88 129.49 L390.25 130.37 L390.63 131.25 L391.03 132.13 L391.44 132.99 L391.86 133.85 L392.31 134.69 L392.76 135.53 L393.23 136.36 L393.72 137.19 L394.22 138.00 L394.73 138.80 L395.25 139.60 L395.79 140.38 L396.35 141.16 L396.91 141.92 L397.49 142.68 L398.08 143.42 L398.68 144.15 L399.30 144.87 L399.93 145.58 L400.57 146.28 L401.22 146.97 L401.89 147.64 L402.56 148.30 L403.25 148.95 L404.00 149.53 L404.77 150.09 L405.55 150.63 L406.33 151.16 L407.12 151.67 L407.92 152.17 L408.72 152.66 L409.53 153.13 L410.35 153.58 L411.17 154.01 L412.00 154.44 L412.83 154.84 L413.67 155.23 L414.52 155.61 L415.37 155.96 L416.22 156.31 L417.08 156.63 L417.94 156.94 L418.80 157.24 L419.67 157.52 L420.54 157.78 L421.41 158.02 L422.29 158.25 L423.16 158.47 L424.04 158.67 L424.92 158.85 L425.80 159.01 L426.68 159.16 L427.57 159.30 L428.45 159.41 L429.33 159.52 L430.21 159.60 L431.09 159.67 L431.97 159.73 L432.85 159.77 L433.73 159.79 L434.60 159.80 L435.47 159.79 L436.34 159.76 L437.21 159.72 L438.08 159.67 L438.94 159.60 L439.80 159.51 L440.65 159.41 L441.50 159.30 L442.35 159.27 L443.19 159.23 L444.04 159.17 L444.88 159.10 L445.73 159.02 L446.57 158.91 L447.41 158.80 L448.24 158.67 L449.07 158.52 L449.90 158.36 L450.73 158.19 L451.55 158.00 L452.37 157.80 L453.19 157.58 L454.00 157.35 L454.81 157.11 L455.61 156.85 L456.41 156.58 L457.20 156.29 L457.99 155.99 L458.77 155.68 L459.54 155.35 L460.31 155.01 L461.07 154.66 L461.83 154.29 L462.58 153.91 L463.32 153.52 L464.05 153.12 L464.78 152.70 L465.50 152.27 L466.25 151.90 L467.00 151.51 L467.74 151.11 L468.48 150.69 L469.20 150.27 L469.93 149.82 L470.64 149.37 L471.35 148.90 L472.05 148.42 L472.74 147.93 L473.42 147.42 L474.10 146.91 L474.77 146.38 L475.43 145.83 L476.08 145.28 L476.72 144.71 L477.35 144.13 L477.97 143.54 L478.59 142.94 L479.19 142.33 L479.78 141.70 L480.36 141.06 L480.94 140.42 L481.50 139.76 L482.05 139.09 L482.59 138.41 L483.11 137.72 L483.63 137.03 L484.14 136.32 L484.63 135.60 L485.10 134.87 L485.55 134.12 L486.00 133.37 L486.43 132.61 L486.85 131.85 L487.25 131.07 L487.64 130.29 L488.02 129.50 L488.38 128.70 L488.74 127.89 L489.07 127.08 L489.40 126.26 L489.70 125.44 L490.00 124.61 L490.28 123.77 L490.55 122.93 L490.80 122.08 L491.03 121.23 L491.26 120.37 L491.46 119.51 L491.65 118.64 L491.83 117.77 L491.99 116.90 L492.14 116.02 L492.27 115.14 L492.39 114.26 L492.49 113.37 L492.58 112.48 L492.65 111.59 L492.70 110.70Z" fill="none" stroke="#dcd83a" stroke-width="1.20" stroke-linejoin="round"/>
<circle cx="492.70" cy="110.70" r="2.05" fill="#dcd83a"/>
<circle cx="485.06" cy="85.55" r="2.05" fill="#dcd83a"/>
<circle cx="460.75" cy="77.36" r="2.05" fill="#dcd83a"/>
<circle cx="441.50" cy="75.40" r="2.05" fill="#dcd83a"/>
<circle cx="407.98" cy="77.18" r="2.05" fill="#dcd83a"/>
<circle cx="385.90" cy="110.70" r="2.05" fill="#dcd83a"/>
<circle cx="403.25" cy="148.95" r="2.05" fill="#dcd83a"/>
<circle cx="441.50" cy="159.30" r="2.05" fill="#dcd83a"/>
<circle cx="465.50" cy="152.27" r="2.05" fill="#dcd83a"/>
<circle cx="484.63" cy="135.60" r="2.05" fill="#dcd83a"/>
<path d="M496.60 110.70 L496.69 109.74 L496.77 108.77 L496.83 107.80 L496.88 106.83 L496.91 105.85 L496.91 104.88 L496.91 103.90 L496.88 102.92 L496.84 101.93 L496.78 100.95 L496.70 99.97 L496.61 98.99 L496.50 98.00 L496.37 97.02 L496.22 96.04 L496.05 95.06 L495.87 94.08 L495.67 93.10 L495.45 92.12 L495.22 91.15 L494.97 90.18 L494.70 89.21 L494.41 88.24 L494.10 87.28 L493.78 86.32 L493.44 85.37 L493.08 84.42 L492.71 83.47 L492.31 82.53 L491.90 81.60 L491.25 80.81 L490.59 80.03 L489.91 79.26 L489.22 78.51 L488.52 77.78 L487.81 77.06 L487.09 76.35 L486.35 75.66 L485.61 74.98 L484.86 74.32 L484.10 73.67 L483.32 73.04 L482.54 72.43 L481.75 71.83 L480.96 71.24 L480.15 70.68 L479.34 70.12 L478.52 69.59 L477.69 69.07 L476.85 68.57 L476.01 68.08 L475.16 67.61 L474.31 67.16 L473.45 66.72 L472.59 66.30 L471.72 65.90 L470.85 65.51 L469.97 65.14 L469.09 64.79 L468.20 64.45 L467.35 64.06 L466.50 63.68 L465.64 63.32 L464.78 62.97 L463.91 62.64 L463.04 62.32 L462.16 62.02 L461.28 61.73 L460.40 61.46 L459.51 61.21 L458.62 60.97 L457.73 60.75 L456.83 60.55 L455.94 60.36 L455.04 60.18 L454.13 60.02 L453.23 59.88 L452.33 59.76 L451.42 59.65 L450.52 59.56 L449.61 59.48 L448.71 59.42 L447.80 59.37 L446.90 59.34 L445.99 59.33 L445.09 59.33 L444.19 59.35 L443.29 59.38 L442.39 59.43 L441.50 59.50 L440.61 59.67 L439.72 59.86 L438.85 60.06 L437.97 60.28 L437.11 60.51 L436.25 60.76 L435.40 61.02 L434.56 61.30 L433.72 61.59 L432.89 61.90 L432.08 62.22 L431.27 62.55 L430.46 62.90 L429.67 63.25 L428.89 63.63 L428.11 64.01 L427.35 64.41 L426.59 64.82 L425.85 65.24 L425.11 65.68 L424.39 66.12 L423.68 66.58 L422.97 67.05 L422.28 67.53 L421.60 68.02 L420.93 68.52 L420.27 69.04 L419.62 69.56 L418.99 70.09 L418.37 70.63 L417.76 71.18 L417.16 71.74 L416.57 72.31 L416.00 72.89 L415.43 73.47 L414.89 74.07 L414.35 74.67 L413.83 75.28 L413.31 75.89 L412.82 76.52 L412.33 77.15 L411.86 77.78 L411.40 78.43 L410.96 79.07 L410.53 79.73 L409.65 79.95 L408.77 80.18 L407.89 80.44 L407.01 80.72 L406.13 81.02 L405.25 81.35 L404.37 81.69 L403.50 82.06 L402.62 82.45 L401.74 82.86 L400.87 83.30 L400.00 83.75 L399.14 84.23 L398.28 84.73 L397.42 85.25 L396.57 85.79 L395.72 86.36 L394.88 86.95 L394.05 87.56 L393.22 88.19 L392.41 88.84 L391.60 89.52 L390.80 90.21 L390.00 90.93 L389.22 91.67 L388.45 92.43 L387.69 93.22 L386.94 94.02 L386.20 94.84 L385.48 95.69 L384.76 96.55 L384.06 97.44 L383.38 98.35 L382.71 99.27 L382.05 100.22 L381.41 101.18 L380.78 102.17 L380.17 103.17 L379.58 104.19 L379.01 105.23 L378.45 106.29 L377.91 107.37 L377.39 108.46 L376.88 109.57 L376.40 110.70 L376.40 111.84 L376.43 112.97 L376.47 114.11 L376.53 115.24 L376.61 116.38 L376.72 117.51 L376.84 118.64 L376.98 119.77 L377.14 120.89 L377.32 122.02 L377.52 123.14 L377.74 124.25 L377.98 125.36 L378.24 126.47 L378.52 127.58 L378.82 128.67 L379.14 129.77 L379.47 130.85 L379.83 131.94 L380.20 133.01 L380.59 134.08 L381.00 135.14 L381.43 136.20 L381.88 137.24 L382.35 138.28 L382.83 139.31 L383.34 140.34 L383.86 141.35 L384.39 142.35 L384.95 143.35 L385.52 144.34 L386.11 145.31 L386.72 146.28 L387.34 147.23 L387.98 148.17 L388.64 149.11 L389.31 150.03 L390.00 150.94 L390.71 151.83 L391.43 152.72 L392.16 153.59 L392.91 154.45 L393.68 155.29 L394.46 156.13 L395.26 156.94 L396.18 157.63 L397.11 158.30 L398.05 158.95 L399.00 159.59 L399.96 160.20 L400.93 160.80 L401.91 161.38 L402.89 161.94 L403.88 162.48 L404.88 163.00 L405.89 163.50 L406.90 163.98 L407.91 164.45 L408.94 164.89 L409.97 165.32 L411.00 165.72 L412.04 166.11 L413.08 166.48 L414.13 166.82 L415.18 167.15 L416.23 167.46 L417.28 167.75 L418.34 168.02 L419.40 168.27 L420.46 168.50 L421.52 168.71 L422.59 168.90 L423.65 169.08 L424.72 169.23 L425.78 169.36 L426.84 169.48 L427.91 169.57 L428.97 169.65 L430.03 169.71 L431.09 169.74 L432.15 169.76 L433.20 169.76 L434.25 169.75 L435.30 169.71 L436.34 169.65 L437.38 169.58 L438.42 169.49 L439.45 169.38 L440.48 169.25 L441.50 169.10 L442.52 169.06 L443.54 169.00 L444.55 168.92 L445.56 168.82 L446.58 168.71 L447.58 168.58 L448.59 168.43 L449.59 168.27 L450.59 168.08 L451.58 167.88 L452.57 167.67 L453.56 167.43 L454.54 167.18 L455.52 166.91 L456.49 166.63 L457.45 166.33 L458.41 166.01 L459.36 165.67 L460.31 165.32 L461.25 164.95 L462.18 164.57 L463.10 164.17 L464.02 163.75 L464.93 163.32 L465.83 162.87 L466.72 162.41 L467.60 161.93 L468.48 161.44 L469.34 160.93 L470.20 160.41 L470.93 159.68 L471.65 158.95 L472.35 158.20 L473.03 157.45 L473.70 156.68 L474.35 155.91 L474.98 155.13 L475.59 154.33 L476.19 153.54 L476.77 152.73 L477.33 151.92 L477.87 151.10 L478.40 150.27 L478.91 149.44 L479.40 148.60 L479.87 147.76 L480.33 146.91 L480.77 146.06 L481.19 145.20 L481.59 144.34 L481.97 143.48 L482.34 142.61 L482.69 141.74 L483.02 140.87 L483.33 139.99 L483.63 139.11 L483.90 138.24 L484.16 137.36 L484.40 136.48 L484.63 135.60 L485.21 134.93 L485.78 134.25 L486.34 133.55 L486.90 132.84 L487.43 132.12 L487.96 131.39 L488.48 130.64 L488.98 129.88 L489.48 129.12 L489.96 128.34 L490.42 127.55 L490.88 126.74 L491.32 125.93 L491.75 125.11 L492.16 124.28 L492.56 123.43 L492.95 122.58 L493.32 121.72 L493.68 120.84 L494.02 119.96 L494.35 119.07 L494.66 118.17 L494.96 117.26 L495.24 116.35 L495.51 115.43 L495.76 114.49 L496.00 113.56 L496.21 112.61 L496.41 111.66 L496.60 110.70Z" fill="none" stroke="#f5631c" stroke-width="1.20" stroke-linejoin="round"/>
<circle cx="496.60" cy="110.70" r="2.05" fill="#f5631c"/>
<circle cx="491.90" cy="81.60" r="2.05" fill="#f5631c"/>
<circle cx="468.20" cy="64.45" r="2.05" fill="#f5631c"/>
<circle cx="441.50" cy="59.50" r="2.05" fill="#f5631c"/>
<circle cx="410.53" cy="79.73" r="2.05" fill="#f5631c"/>
<circle cx="376.40" cy="110.70" r="2.05" fill="#f5631c"/>
<circle cx="395.26" cy="156.94" r="2.05" fill="#f5631c"/>
<circle cx="441.50" cy="169.10" r="2.05" fill="#f5631c"/>
<circle cx="470.20" cy="160.41" r="2.05" fill="#f5631c"/>
<circle cx="484.63" cy="135.60" r="2.05" fill="#f5631c"/>
<path d="M512.50 110.70 L512.38 109.46 L512.24 108.23 L512.07 107.00 L511.89 105.78 L511.68 104.56 L511.45 103.35 L511.21 102.14 L510.94 100.94 L510.65 99.75 L510.34 98.56 L510.01 97.38 L509.66 96.21 L509.29 95.05 L508.90 93.90 L508.49 92.75 L508.06 91.61 L507.61 90.49 L507.14 89.37 L506.66 88.27 L506.15 87.17 L505.63 86.08 L505.09 85.01 L504.53 83.95 L503.95 82.90 L503.36 81.86 L502.74 80.83 L502.12 79.82 L501.47 78.81 L500.81 77.83 L500.13 76.85 L499.31 75.97 L498.47 75.10 L497.62 74.25 L496.76 73.42 L495.89 72.61 L495.01 71.82 L494.11 71.05 L493.21 70.30 L492.29 69.57 L491.37 68.85 L490.44 68.16 L489.49 67.49 L488.54 66.83 L487.58 66.20 L486.61 65.59 L485.64 64.99 L484.66 64.42 L483.67 63.87 L482.67 63.33 L481.67 62.82 L480.67 62.33 L479.66 61.86 L478.64 61.41 L477.63 60.98 L476.60 60.57 L475.58 60.18 L474.55 59.81 L473.52 59.46 L472.48 59.13 L471.45 58.83 L470.50 58.38 L469.54 57.96 L468.58 57.55 L467.61 57.16 L466.64 56.79 L465.66 56.44 L464.68 56.10 L463.69 55.78 L462.70 55.48 L461.70 55.20 L460.70 54.93 L459.70 54.68 L458.70 54.45 L457.69 54.24 L456.68 54.05 L455.67 53.87 L454.66 53.72 L453.64 53.58 L452.63 53.45 L451.61 53.35 L450.60 53.27 L449.58 53.20 L448.57 53.15 L447.55 53.12 L446.54 53.10 L445.53 53.11 L444.52 53.13 L443.51 53.17 L442.50 53.23 L441.50 53.30 L440.50 53.31 L439.50 53.34 L438.50 53.39 L437.50 53.45 L436.50 53.53 L435.50 53.63 L434.51 53.74 L433.51 53.88 L432.52 54.03 L431.54 54.19 L430.55 54.38 L429.57 54.58 L428.59 54.80 L427.62 55.04 L426.65 55.29 L425.69 55.56 L424.73 55.84 L423.77 56.15 L422.83 56.47 L421.88 56.80 L420.95 57.16 L420.02 57.52 L419.09 57.91 L418.18 58.31 L417.27 58.73 L416.36 59.16 L415.47 59.61 L414.58 60.07 L413.70 60.55 L412.83 61.05 L411.97 61.56 L411.12 62.08 L410.28 62.62 L409.44 63.18 L408.62 63.74 L407.81 64.33 L407.01 64.92 L406.21 65.53 L405.43 66.16 L404.66 66.80 L403.90 67.45 L403.15 68.11 L402.42 68.79 L401.69 69.48 L400.98 70.18 L400.01 70.63 L399.03 71.10 L398.06 71.59 L397.09 72.10 L396.13 72.63 L395.18 73.19 L394.23 73.77 L393.28 74.37 L392.34 74.99 L391.41 75.63 L390.49 76.29 L389.58 76.98 L388.67 77.69 L387.77 78.42 L386.88 79.17 L386.00 79.94 L385.14 80.73 L384.28 81.54 L383.43 82.38 L382.60 83.23 L381.78 84.11 L380.97 85.01 L380.17 85.92 L379.39 86.86 L378.62 87.82 L377.87 88.79 L377.13 89.79 L376.41 90.80 L375.70 91.83 L375.01 92.88 L374.34 93.95 L373.68 95.04 L373.04 96.15 L372.42 97.27 L371.82 98.41 L371.24 99.57 L370.67 100.75 L370.13 101.94 L369.60 103.14 L369.10 104.37 L368.62 105.60 L368.15 106.86 L367.71 108.12 L367.30 109.40 L366.90 110.70 L366.89 112.00 L366.91 113.30 L366.94 114.61 L367.00 115.91 L367.08 117.21 L367.19 118.51 L367.32 119.81 L367.47 121.10 L367.64 122.40 L367.84 123.69 L368.05 124.98 L368.30 126.26 L368.56 127.54 L368.84 128.82 L369.15 130.09 L369.48 131.35 L369.83 132.61 L370.21 133.86 L370.61 135.11 L371.02 136.35 L371.46 137.58 L371.92 138.81 L372.41 140.03 L372.91 141.24 L373.44 142.44 L373.98 143.63 L374.55 144.81 L375.14 145.99 L375.75 147.15 L376.37 148.30 L377.02 149.44 L377.69 150.57 L378.38 151.69 L379.09 152.80 L379.82 153.89 L380.56 154.97 L381.33 156.04 L382.12 157.10 L382.92 158.14 L383.74 159.17 L384.58 160.18 L385.44 161.18 L386.31 162.16 L387.20 163.13 L388.11 164.09 L389.24 164.81 L390.38 165.51 L391.53 166.19 L392.69 166.85 L393.86 167.48 L395.03 168.09 L396.21 168.67 L397.39 169.24 L398.58 169.77 L399.78 170.29 L400.98 170.78 L402.18 171.25 L403.39 171.69 L404.60 172.11 L405.82 172.51 L407.03 172.88 L408.25 173.23 L409.48 173.55 L410.70 173.85 L411.92 174.13 L413.15 174.39 L414.37 174.62 L415.59 174.83 L416.81 175.01 L418.03 175.17 L419.25 175.31 L420.47 175.43 L421.68 175.52 L422.89 175.59 L424.10 175.64 L425.30 175.67 L426.50 175.67 L427.69 175.66 L428.88 175.62 L430.06 175.56 L431.24 175.47 L432.41 175.37 L433.57 175.24 L434.73 175.10 L435.88 174.93 L437.02 174.75 L438.15 174.54 L439.28 174.31 L440.39 174.07 L441.50 173.80 L442.60 173.44 L443.68 173.07 L444.75 172.67 L445.80 172.26 L446.85 171.83 L447.88 171.39 L448.89 170.92 L449.90 170.44 L450.88 169.94 L451.86 169.43 L452.81 168.90 L453.75 168.35 L454.68 167.79 L455.59 167.22 L456.49 166.63 L457.36 166.02 L458.23 165.41 L459.07 164.78 L459.90 164.13 L460.71 163.48 L461.50 162.81 L462.28 162.13 L463.04 161.44 L463.78 160.74 L464.50 160.03 L465.21 159.31 L465.90 158.58 L466.57 157.84 L467.22 157.10 L467.85 156.34 L468.91 156.32 L469.98 156.27 L471.05 156.21 L472.13 156.11 L473.22 156.00 L474.31 155.86 L475.41 155.70 L476.51 155.51 L477.61 155.29 L478.72 155.05 L479.83 154.79 L480.94 154.50 L482.05 154.19 L483.17 153.85 L484.28 153.48 L485.39 153.09 L486.51 152.67 L487.62 152.23 L488.73 151.76 L489.84 151.26 L490.94 150.74 L492.04 150.19 L493.14 149.61 L494.23 149.01 L495.32 148.38 L496.40 147.73 L497.47 147.05 L498.54 146.34 L499.60 145.61 L500.65 144.85 L501.32 143.86 L501.96 142.85 L502.60 141.83 L503.21 140.80 L503.81 139.76 L504.39 138.70 L504.95 137.63 L505.49 136.56 L506.02 135.47 L506.53 134.37 L507.01 133.26 L507.48 132.14 L507.93 131.01 L508.37 129.87 L508.78 128.73 L509.17 127.57 L509.54 126.41 L509.89 125.24 L510.22 124.06 L510.54 122.87 L510.83 121.68 L511.10 120.48 L511.35 119.28 L511.57 118.07 L511.78 116.85 L511.97 115.63 L512.13 114.40 L512.28 113.17 L512.40 111.94 L512.50 110.70Z" fill="none" stroke="#8a1212" stroke-width="1.20" stroke-linejoin="round"/>
<circle cx="512.50" cy="110.70" r="2.05" fill="#8a1212"/>
<circle cx="500.13" cy="76.85" r="2.05" fill="#8a1212"/>
<circle cx="471.45" cy="58.83" r="2.05" fill="#8a1212"/>
<circle cx="441.50" cy="53.30" r="2.05" fill="#8a1212"/>
<circle cx="400.98" cy="70.18" r="2.05" fill="#8a1212"/>
<circle cx="366.90" cy="110.70" r="2.05" fill="#8a1212"/>
<circle cx="388.11" cy="164.09" r="2.05" fill="#8a1212"/>
<circle cx="441.50" cy="173.80" r="2.05" fill="#8a1212"/>
<circle cx="467.85" cy="156.34" r="2.05" fill="#8a1212"/>
<circle cx="500.65" cy="144.85" r="2.05" fill="#8a1212"/>
<g font-family='"Liberation Sans", sans-serif' font-size="10.30" fill="#2a2a2a" stroke="#2a2a2a" stroke-width="0.10">
<text x="441.45" y="13.40" text-anchor="middle">90<tspan font-size="9.79" dx="0.4" dy="-0.5">°</tspan></text>
<text x="497.00" y="26.00" text-anchor="middle">60<tspan font-size="9.79" dx="0.4" dy="-0.5">°</tspan></text>
<text x="532.00" y="61.00" text-anchor="middle">30<tspan font-size="9.79" dx="0.4" dy="-0.5">°</tspan></text>
<text x="541.95" y="114.60" text-anchor="middle">0<tspan font-size="9.79" dx="0.4" dy="-0.5">°</tspan></text>
<text x="534.60" y="167.90" text-anchor="middle">330<tspan font-size="9.79" dx="0.4" dy="-0.5">°</tspan></text>
<text x="499.80" y="203.00" text-anchor="middle">300<tspan font-size="9.79" dx="0.4" dy="-0.5">°</tspan></text>
<text x="441.30" y="216.10" text-anchor="middle">270<tspan font-size="9.79" dx="0.4" dy="-0.5">°</tspan></text>
<text x="383.10" y="203.00" text-anchor="middle">240<tspan font-size="9.79" dx="0.4" dy="-0.5">°</tspan></text>
<text x="348.00" y="167.90" text-anchor="middle">210<tspan font-size="9.79" dx="0.4" dy="-0.5">°</tspan></text>
<text x="335.65" y="114.50" text-anchor="middle">180<tspan font-size="9.79" dx="0.4" dy="-0.5">°</tspan></text>
<text x="348.55" y="61.10" text-anchor="middle">150<tspan font-size="9.79" dx="0.4" dy="-0.5">°</tspan></text>
<text x="383.40" y="26.40" text-anchor="middle">120<tspan font-size="9.79" dx="0.4" dy="-0.5">°</tspan></text>
<text x="441.50" y="114.60" text-anchor="middle">20 dB</text>
<text x="445.50" y="91.90" text-anchor="middle">30 dB</text>
<text x="449.51" y="69.20" text-anchor="middle">40 dB</text>
<text x="453.51" y="46.50" text-anchor="middle">50 dB</text>
<text x="457.51" y="23.80" text-anchor="middle">60 dB</text>
</g>
<rect x="67.00" y="235.50" width="417.90" height="15.00" fill="#fff" stroke="#ababab" stroke-width="0.8"/>
<g font-family='"Liberation Sans", sans-serif' font-size="10.60" fill="#2a2a2a" stroke="#2a2a2a" stroke-width="0.10">
<line x1="68.90" y1="243.0" x2="88.30" y2="243.0" stroke="#30123b" stroke-width="1.7" stroke-opacity="0.75"/>
<text x="90.20" y="247.1">3000 rpm</text>
<line x1="138.65" y1="243.0" x2="158.05" y2="243.0" stroke="#3a96f5" stroke-width="1.7" stroke-opacity="0.75"/>
<text x="159.95" y="247.1">4000 rpm</text>
<line x1="208.40" y1="243.0" x2="227.80" y2="243.0" stroke="#38ec78" stroke-width="1.7" stroke-opacity="0.75"/>
<text x="229.70" y="247.1">5000 rpm</text>
<line x1="278.15" y1="243.0" x2="297.55" y2="243.0" stroke="#dcd83a" stroke-width="1.7" stroke-opacity="0.75"/>
<text x="299.45" y="247.1">6000 rpm</text>
<line x1="347.90" y1="243.0" x2="367.30" y2="243.0" stroke="#f5631c" stroke-width="1.7" stroke-opacity="0.75"/>
<text x="369.20" y="247.1">7000 rpm</text>
<line x1="417.65" y1="243.0" x2="437.05" y2="243.0" stroke="#8a1212" stroke-width="1.7" stroke-opacity="0.75"/>
<text x="438.95" y="247.1">8000 rpm</text>
</g>
<g font-family='"Liberation Serif", serif' font-size="14" fill="#000">
<text x="83.5" y="281" textLength="17.6" lengthAdjust="spacingAndGlyphs">(<tspan font-weight="bold">a</tspan>)</text>
<text x="104.8" y="281" textLength="43.4" lengthAdjust="spacingAndGlyphs">Type 1</text>
<text x="402.6" y="281" textLength="18.0" lengthAdjust="spacingAndGlyphs">(<tspan font-weight="bold">b</tspan>)</text>
<text x="424.8" y="281" textLength="46.0" lengthAdjust="spacingAndGlyphs">Type 2</text>
</g>
</svg>
</body></html>
